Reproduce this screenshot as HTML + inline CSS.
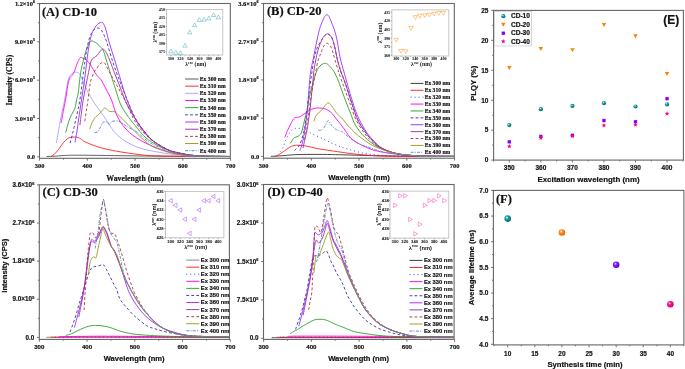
<!DOCTYPE html>
<html><head><meta charset="utf-8"><style>
html,body{margin:0;padding:0;background:#fff;width:685px;height:369px;overflow:hidden}
svg{display:block;will-change:transform;opacity:0.999;filter:blur(0.35px)}
text{stroke:#1a1a1a;stroke-width:0.2px;stroke-linejoin:round}
text.ns{stroke:none}
</style></head><body>
<svg width="685" height="369" viewBox="0 0 685 369">
<rect width="685" height="369" fill="#fff"/>
<defs><clipPath id="cA"><rect x="39.5" y="3.5" width="190.8" height="154.8"/></clipPath><clipPath id="cB"><rect x="263.5" y="3.5" width="190.8" height="154.7"/></clipPath><clipPath id="cC"><rect x="39.3" y="184.8" width="190.10000000000002" height="154.59999999999997"/></clipPath><clipPath id="cD"><rect x="263.5" y="184.5" width="190.60000000000002" height="154.89999999999998"/></clipPath><radialGradient id="gT" cx="0.38" cy="0.35" r="0.65"><stop offset="0" stop-color="#e8ffff"/><stop offset="0.35" stop-color="#1aa3a3"/><stop offset="1" stop-color="#006868"/></radialGradient><radialGradient id="gO" cx="0.38" cy="0.35" r="0.65"><stop offset="0" stop-color="#fff3e0"/><stop offset="0.35" stop-color="#ff9020"/><stop offset="1" stop-color="#e06800"/></radialGradient><radialGradient id="gV" cx="0.38" cy="0.35" r="0.65"><stop offset="0" stop-color="#f0e0ff"/><stop offset="0.35" stop-color="#8a20ff"/><stop offset="1" stop-color="#6000d0"/></radialGradient><radialGradient id="gP" cx="0.38" cy="0.35" r="0.65"><stop offset="0" stop-color="#ffe0f0"/><stop offset="0.35" stop-color="#ff1090"/><stop offset="1" stop-color="#d00070"/></radialGradient></defs>
<rect x="39.50" y="3.50" width="190.80" height="154.80" stroke="#666" stroke-width="1.1" fill="none"/>
<line x1="39.60" y1="158.30" x2="39.60" y2="160.70" stroke="#666" stroke-width="0.9"/>
<text x="39.60" y="168.40" font-family='"Liberation Serif", serif' font-size="6.4" font-weight="bold" text-anchor="middle" fill="#111">300</text>
<line x1="63.48" y1="158.30" x2="63.48" y2="159.70" stroke="#666" stroke-width="0.9"/>
<line x1="87.35" y1="158.30" x2="87.35" y2="160.70" stroke="#666" stroke-width="0.9"/>
<text x="87.35" y="168.40" font-family='"Liberation Serif", serif' font-size="6.4" font-weight="bold" text-anchor="middle" fill="#111">400</text>
<line x1="111.22" y1="158.30" x2="111.22" y2="159.70" stroke="#666" stroke-width="0.9"/>
<line x1="135.10" y1="158.30" x2="135.10" y2="160.70" stroke="#666" stroke-width="0.9"/>
<text x="135.10" y="168.40" font-family='"Liberation Serif", serif' font-size="6.4" font-weight="bold" text-anchor="middle" fill="#111">500</text>
<line x1="158.97" y1="158.30" x2="158.97" y2="159.70" stroke="#666" stroke-width="0.9"/>
<line x1="182.85" y1="158.30" x2="182.85" y2="160.70" stroke="#666" stroke-width="0.9"/>
<text x="182.85" y="168.40" font-family='"Liberation Serif", serif' font-size="6.4" font-weight="bold" text-anchor="middle" fill="#111">600</text>
<line x1="206.72" y1="158.30" x2="206.72" y2="159.70" stroke="#666" stroke-width="0.9"/>
<line x1="230.60" y1="158.30" x2="230.60" y2="160.70" stroke="#666" stroke-width="0.9"/>
<text x="230.60" y="168.40" font-family='"Liberation Serif", serif' font-size="6.4" font-weight="bold" text-anchor="middle" fill="#111">700</text>
<line x1="37.10" y1="3.60" x2="39.50" y2="3.60" stroke="#666" stroke-width="0.9"/>
<line x1="38.10" y1="22.75" x2="39.50" y2="22.75" stroke="#666" stroke-width="0.9"/>
<line x1="37.10" y1="41.90" x2="39.50" y2="41.90" stroke="#666" stroke-width="0.9"/>
<line x1="38.10" y1="61.05" x2="39.50" y2="61.05" stroke="#666" stroke-width="0.9"/>
<line x1="37.10" y1="80.20" x2="39.50" y2="80.20" stroke="#666" stroke-width="0.9"/>
<line x1="38.10" y1="99.35" x2="39.50" y2="99.35" stroke="#666" stroke-width="0.9"/>
<line x1="37.10" y1="118.50" x2="39.50" y2="118.50" stroke="#666" stroke-width="0.9"/>
<line x1="38.10" y1="137.65" x2="39.50" y2="137.65" stroke="#666" stroke-width="0.9"/>
<line x1="37.10" y1="156.80" x2="39.50" y2="156.80" stroke="#666" stroke-width="0.9"/>
<text x="35.00" y="2.70" font-family='"Liberation Serif", serif' font-size="3.968" font-weight="bold" text-anchor="end" fill="#111">6</text>
<text x="32.92" y="5.71" font-family='"Liberation Serif", serif' font-size="6.4" font-weight="bold" text-anchor="end" fill="#111">1.2×10</text>
<text x="35.00" y="41.00" font-family='"Liberation Serif", serif' font-size="3.968" font-weight="bold" text-anchor="end" fill="#111">5</text>
<text x="32.92" y="44.01" font-family='"Liberation Serif", serif' font-size="6.4" font-weight="bold" text-anchor="end" fill="#111">9.0×10</text>
<text x="35.00" y="79.30" font-family='"Liberation Serif", serif' font-size="3.968" font-weight="bold" text-anchor="end" fill="#111">5</text>
<text x="32.92" y="82.31" font-family='"Liberation Serif", serif' font-size="6.4" font-weight="bold" text-anchor="end" fill="#111">6.0×10</text>
<text x="35.00" y="117.60" font-family='"Liberation Serif", serif' font-size="3.968" font-weight="bold" text-anchor="end" fill="#111">5</text>
<text x="32.92" y="120.61" font-family='"Liberation Serif", serif' font-size="6.4" font-weight="bold" text-anchor="end" fill="#111">3.0×10</text>
<text x="35.00" y="159.00" font-family='"Liberation Serif", serif' font-size="6.4" font-weight="bold" text-anchor="end" fill="#111">0.0</text>
<text x="11.60" y="80.10" font-family='"Liberation Serif", serif' font-size="7.7" font-weight="bold" text-anchor="middle" fill="#111" transform="rotate(-90 11.60 80.10)">Intensity (CPS)</text>
<text x="135.00" y="180.70" font-family='"Liberation Serif", serif' font-size="7.8" font-weight="bold" text-anchor="middle" fill="#111">Wavelength (nm)</text>
<text x="41.90" y="15.80" font-family='"Liberation Serif", serif' font-size="12.5" font-weight="bold" text-anchor="start" fill="#111">(A) CD-10</text>
<rect x="263.50" y="3.50" width="190.80" height="154.70" stroke="#666" stroke-width="1.1" fill="none"/>
<line x1="263.60" y1="158.20" x2="263.60" y2="160.60" stroke="#666" stroke-width="0.9"/>
<text x="263.60" y="168.30" font-family='"Liberation Serif", serif' font-size="6.4" font-weight="bold" text-anchor="middle" fill="#111">300</text>
<line x1="287.48" y1="158.20" x2="287.48" y2="159.60" stroke="#666" stroke-width="0.9"/>
<line x1="311.35" y1="158.20" x2="311.35" y2="160.60" stroke="#666" stroke-width="0.9"/>
<text x="311.35" y="168.30" font-family='"Liberation Serif", serif' font-size="6.4" font-weight="bold" text-anchor="middle" fill="#111">400</text>
<line x1="335.23" y1="158.20" x2="335.23" y2="159.60" stroke="#666" stroke-width="0.9"/>
<line x1="359.10" y1="158.20" x2="359.10" y2="160.60" stroke="#666" stroke-width="0.9"/>
<text x="359.10" y="168.30" font-family='"Liberation Serif", serif' font-size="6.4" font-weight="bold" text-anchor="middle" fill="#111">500</text>
<line x1="382.98" y1="158.20" x2="382.98" y2="159.60" stroke="#666" stroke-width="0.9"/>
<line x1="406.85" y1="158.20" x2="406.85" y2="160.60" stroke="#666" stroke-width="0.9"/>
<text x="406.85" y="168.30" font-family='"Liberation Serif", serif' font-size="6.4" font-weight="bold" text-anchor="middle" fill="#111">600</text>
<line x1="430.73" y1="158.20" x2="430.73" y2="159.60" stroke="#666" stroke-width="0.9"/>
<line x1="454.60" y1="158.20" x2="454.60" y2="160.60" stroke="#666" stroke-width="0.9"/>
<text x="454.60" y="168.30" font-family='"Liberation Serif", serif' font-size="6.4" font-weight="bold" text-anchor="middle" fill="#111">700</text>
<line x1="261.10" y1="3.50" x2="263.50" y2="3.50" stroke="#666" stroke-width="0.9"/>
<line x1="262.10" y1="22.61" x2="263.50" y2="22.61" stroke="#666" stroke-width="0.9"/>
<line x1="261.10" y1="41.72" x2="263.50" y2="41.72" stroke="#666" stroke-width="0.9"/>
<line x1="262.10" y1="60.83" x2="263.50" y2="60.83" stroke="#666" stroke-width="0.9"/>
<line x1="261.10" y1="79.94" x2="263.50" y2="79.94" stroke="#666" stroke-width="0.9"/>
<line x1="262.10" y1="99.05" x2="263.50" y2="99.05" stroke="#666" stroke-width="0.9"/>
<line x1="261.10" y1="118.16" x2="263.50" y2="118.16" stroke="#666" stroke-width="0.9"/>
<line x1="262.10" y1="137.27" x2="263.50" y2="137.27" stroke="#666" stroke-width="0.9"/>
<line x1="261.10" y1="156.38" x2="263.50" y2="156.38" stroke="#666" stroke-width="0.9"/>
<text x="258.60" y="2.59" font-family='"Liberation Serif", serif' font-size="4.03" font-weight="bold" text-anchor="end" fill="#111">6</text>
<text x="256.49" y="5.64" font-family='"Liberation Serif", serif' font-size="6.5" font-weight="bold" text-anchor="end" fill="#111">3.6×10</text>
<text x="258.60" y="40.81" font-family='"Liberation Serif", serif' font-size="4.03" font-weight="bold" text-anchor="end" fill="#111">6</text>
<text x="256.49" y="43.87" font-family='"Liberation Serif", serif' font-size="6.5" font-weight="bold" text-anchor="end" fill="#111">2.7×10</text>
<text x="258.60" y="79.03" font-family='"Liberation Serif", serif' font-size="4.03" font-weight="bold" text-anchor="end" fill="#111">6</text>
<text x="256.49" y="82.08" font-family='"Liberation Serif", serif' font-size="6.5" font-weight="bold" text-anchor="end" fill="#111">1.8×10</text>
<text x="258.60" y="117.25" font-family='"Liberation Serif", serif' font-size="4.03" font-weight="bold" text-anchor="end" fill="#111">5</text>
<text x="256.49" y="120.30" font-family='"Liberation Serif", serif' font-size="6.5" font-weight="bold" text-anchor="end" fill="#111">9.0×10</text>
<text x="259.20" y="158.58" font-family='"Liberation Serif", serif' font-size="6.6" font-weight="bold" text-anchor="end" fill="#111">0.0</text>
<text x="359.00" y="180.00" font-family='"Liberation Sans", sans-serif' font-size="7.7" font-weight="bold" text-anchor="middle" fill="#111">Wavelength (nm)</text>
<text x="266.90" y="15.30" font-family='"Liberation Serif", serif' font-size="12.5" font-weight="bold" text-anchor="start" fill="#111">(B) CD-20</text>
<rect x="39.30" y="184.80" width="190.10" height="154.60" stroke="#666" stroke-width="1.1" fill="none"/>
<line x1="39.30" y1="339.40" x2="39.30" y2="341.80" stroke="#666" stroke-width="0.9"/>
<text x="39.30" y="349.10" font-family='"Liberation Sans", sans-serif' font-size="6.1" font-weight="bold" text-anchor="middle" fill="#111">300</text>
<line x1="63.17" y1="339.40" x2="63.17" y2="340.80" stroke="#666" stroke-width="0.9"/>
<line x1="87.05" y1="339.40" x2="87.05" y2="341.80" stroke="#666" stroke-width="0.9"/>
<text x="87.05" y="349.10" font-family='"Liberation Sans", sans-serif' font-size="6.1" font-weight="bold" text-anchor="middle" fill="#111">400</text>
<line x1="110.92" y1="339.40" x2="110.92" y2="340.80" stroke="#666" stroke-width="0.9"/>
<line x1="134.80" y1="339.40" x2="134.80" y2="341.80" stroke="#666" stroke-width="0.9"/>
<text x="134.80" y="349.10" font-family='"Liberation Sans", sans-serif' font-size="6.1" font-weight="bold" text-anchor="middle" fill="#111">500</text>
<line x1="158.68" y1="339.40" x2="158.68" y2="340.80" stroke="#666" stroke-width="0.9"/>
<line x1="182.55" y1="339.40" x2="182.55" y2="341.80" stroke="#666" stroke-width="0.9"/>
<text x="182.55" y="349.10" font-family='"Liberation Sans", sans-serif' font-size="6.1" font-weight="bold" text-anchor="middle" fill="#111">600</text>
<line x1="206.43" y1="339.40" x2="206.43" y2="340.80" stroke="#666" stroke-width="0.9"/>
<line x1="230.30" y1="339.40" x2="230.30" y2="341.80" stroke="#666" stroke-width="0.9"/>
<text x="230.30" y="349.10" font-family='"Liberation Sans", sans-serif' font-size="6.1" font-weight="bold" text-anchor="middle" fill="#111">700</text>
<line x1="36.90" y1="184.90" x2="39.30" y2="184.90" stroke="#666" stroke-width="0.9"/>
<line x1="37.90" y1="203.96" x2="39.30" y2="203.96" stroke="#666" stroke-width="0.9"/>
<line x1="36.90" y1="223.02" x2="39.30" y2="223.02" stroke="#666" stroke-width="0.9"/>
<line x1="37.90" y1="242.08" x2="39.30" y2="242.08" stroke="#666" stroke-width="0.9"/>
<line x1="36.90" y1="261.14" x2="39.30" y2="261.14" stroke="#666" stroke-width="0.9"/>
<line x1="37.90" y1="280.20" x2="39.30" y2="280.20" stroke="#666" stroke-width="0.9"/>
<line x1="36.90" y1="299.26" x2="39.30" y2="299.26" stroke="#666" stroke-width="0.9"/>
<line x1="37.90" y1="318.32" x2="39.30" y2="318.32" stroke="#666" stroke-width="0.9"/>
<line x1="36.90" y1="337.38" x2="39.30" y2="337.38" stroke="#666" stroke-width="0.9"/>
<text x="34.30" y="184.77" font-family='"Liberation Sans", sans-serif' font-size="3.9059999999999997" font-weight="bold" text-anchor="end" fill="#111">6</text>
<text x="32.03" y="186.98" font-family='"Liberation Sans", sans-serif' font-size="6.3" font-weight="bold" text-anchor="end" fill="#111">3.6×10</text>
<text x="34.30" y="222.89" font-family='"Liberation Sans", sans-serif' font-size="3.9059999999999997" font-weight="bold" text-anchor="end" fill="#111">6</text>
<text x="32.03" y="225.10" font-family='"Liberation Sans", sans-serif' font-size="6.3" font-weight="bold" text-anchor="end" fill="#111">2.7×10</text>
<text x="34.30" y="261.01" font-family='"Liberation Sans", sans-serif' font-size="3.9059999999999997" font-weight="bold" text-anchor="end" fill="#111">6</text>
<text x="32.03" y="263.22" font-family='"Liberation Sans", sans-serif' font-size="6.3" font-weight="bold" text-anchor="end" fill="#111">1.8×10</text>
<text x="34.30" y="299.13" font-family='"Liberation Sans", sans-serif' font-size="3.9059999999999997" font-weight="bold" text-anchor="end" fill="#111">5</text>
<text x="32.03" y="301.34" font-family='"Liberation Sans", sans-serif' font-size="6.3" font-weight="bold" text-anchor="end" fill="#111">9.0×10</text>
<text x="34.30" y="340.08" font-family='"Liberation Sans", sans-serif' font-size="6.3" font-weight="bold" text-anchor="end" fill="#111">0.0</text>
<text x="6.60" y="265.70" font-family='"Liberation Sans", sans-serif' font-size="7.6" font-weight="bold" text-anchor="middle" fill="#111" transform="rotate(-90 6.60 265.70)">Intensity (CPS)</text>
<text x="134.20" y="361.40" font-family='"Liberation Sans", sans-serif' font-size="7.6" font-weight="bold" text-anchor="middle" fill="#111">Wavelength (nm)</text>
<text x="42.60" y="196.10" font-family='"Liberation Serif", serif' font-size="12.5" font-weight="bold" text-anchor="start" fill="#111">(C) CD-30</text>
<rect x="263.50" y="184.50" width="190.60" height="154.90" stroke="#666" stroke-width="1.1" fill="none"/>
<line x1="263.60" y1="339.40" x2="263.60" y2="341.80" stroke="#666" stroke-width="0.9"/>
<text x="263.60" y="349.10" font-family='"Liberation Sans", sans-serif' font-size="6.1" font-weight="bold" text-anchor="middle" fill="#111">300</text>
<line x1="287.48" y1="339.40" x2="287.48" y2="340.80" stroke="#666" stroke-width="0.9"/>
<line x1="311.35" y1="339.40" x2="311.35" y2="341.80" stroke="#666" stroke-width="0.9"/>
<text x="311.35" y="349.10" font-family='"Liberation Sans", sans-serif' font-size="6.1" font-weight="bold" text-anchor="middle" fill="#111">400</text>
<line x1="335.23" y1="339.40" x2="335.23" y2="340.80" stroke="#666" stroke-width="0.9"/>
<line x1="359.10" y1="339.40" x2="359.10" y2="341.80" stroke="#666" stroke-width="0.9"/>
<text x="359.10" y="349.10" font-family='"Liberation Sans", sans-serif' font-size="6.1" font-weight="bold" text-anchor="middle" fill="#111">500</text>
<line x1="382.98" y1="339.40" x2="382.98" y2="340.80" stroke="#666" stroke-width="0.9"/>
<line x1="406.85" y1="339.40" x2="406.85" y2="341.80" stroke="#666" stroke-width="0.9"/>
<text x="406.85" y="349.10" font-family='"Liberation Sans", sans-serif' font-size="6.1" font-weight="bold" text-anchor="middle" fill="#111">600</text>
<line x1="430.73" y1="339.40" x2="430.73" y2="340.80" stroke="#666" stroke-width="0.9"/>
<line x1="454.60" y1="339.40" x2="454.60" y2="341.80" stroke="#666" stroke-width="0.9"/>
<text x="454.60" y="349.10" font-family='"Liberation Sans", sans-serif' font-size="6.1" font-weight="bold" text-anchor="middle" fill="#111">700</text>
<line x1="261.10" y1="184.70" x2="263.50" y2="184.70" stroke="#666" stroke-width="0.9"/>
<line x1="262.10" y1="203.90" x2="263.50" y2="203.90" stroke="#666" stroke-width="0.9"/>
<line x1="261.10" y1="223.10" x2="263.50" y2="223.10" stroke="#666" stroke-width="0.9"/>
<line x1="262.10" y1="242.30" x2="263.50" y2="242.30" stroke="#666" stroke-width="0.9"/>
<line x1="261.10" y1="261.50" x2="263.50" y2="261.50" stroke="#666" stroke-width="0.9"/>
<line x1="262.10" y1="280.70" x2="263.50" y2="280.70" stroke="#666" stroke-width="0.9"/>
<line x1="261.10" y1="299.90" x2="263.50" y2="299.90" stroke="#666" stroke-width="0.9"/>
<line x1="262.10" y1="319.10" x2="263.50" y2="319.10" stroke="#666" stroke-width="0.9"/>
<line x1="261.10" y1="338.30" x2="263.50" y2="338.30" stroke="#666" stroke-width="0.9"/>
<text x="258.50" y="184.57" font-family='"Liberation Sans", sans-serif' font-size="3.9059999999999997" font-weight="bold" text-anchor="end" fill="#111">6</text>
<text x="256.23" y="186.78" font-family='"Liberation Sans", sans-serif' font-size="6.3" font-weight="bold" text-anchor="end" fill="#111">3.0×10</text>
<text x="258.50" y="222.97" font-family='"Liberation Sans", sans-serif' font-size="3.9059999999999997" font-weight="bold" text-anchor="end" fill="#111">6</text>
<text x="256.23" y="225.18" font-family='"Liberation Sans", sans-serif' font-size="6.3" font-weight="bold" text-anchor="end" fill="#111">2.3×10</text>
<text x="258.50" y="261.37" font-family='"Liberation Sans", sans-serif' font-size="3.9059999999999997" font-weight="bold" text-anchor="end" fill="#111">6</text>
<text x="256.23" y="263.58" font-family='"Liberation Sans", sans-serif' font-size="6.3" font-weight="bold" text-anchor="end" fill="#111">1.5×10</text>
<text x="258.50" y="299.77" font-family='"Liberation Sans", sans-serif' font-size="3.9059999999999997" font-weight="bold" text-anchor="end" fill="#111">5</text>
<text x="256.23" y="301.98" font-family='"Liberation Sans", sans-serif' font-size="6.3" font-weight="bold" text-anchor="end" fill="#111">7.5×10</text>
<text x="258.50" y="340.20" font-family='"Liberation Sans", sans-serif' font-size="6.3" font-weight="bold" text-anchor="end" fill="#111">0.0</text>
<text x="358.60" y="361.40" font-family='"Liberation Sans", sans-serif' font-size="7.6" font-weight="bold" text-anchor="middle" fill="#111">Wavelength (nm)</text>
<text x="267.60" y="196.10" font-family='"Liberation Serif", serif' font-size="12.5" font-weight="bold" text-anchor="start" fill="#111">(D) CD-40</text>
<rect x="493.60" y="10.40" width="189.80" height="149.70" stroke="#666" stroke-width="1.1" fill="none"/>
<line x1="491.20" y1="160.10" x2="493.60" y2="160.10" stroke="#666" stroke-width="0.9"/>
<text x="488.40" y="162.40" font-family='"Liberation Sans", sans-serif' font-size="6.5" font-weight="bold" text-anchor="end" fill="#111">0</text>
<line x1="492.20" y1="145.13" x2="493.60" y2="145.13" stroke="#666" stroke-width="0.9"/>
<line x1="491.20" y1="130.16" x2="493.60" y2="130.16" stroke="#666" stroke-width="0.9"/>
<text x="488.40" y="132.46" font-family='"Liberation Sans", sans-serif' font-size="6.5" font-weight="bold" text-anchor="end" fill="#111">5</text>
<line x1="492.20" y1="115.19" x2="493.60" y2="115.19" stroke="#666" stroke-width="0.9"/>
<line x1="491.20" y1="100.22" x2="493.60" y2="100.22" stroke="#666" stroke-width="0.9"/>
<text x="488.40" y="102.52" font-family='"Liberation Sans", sans-serif' font-size="6.5" font-weight="bold" text-anchor="end" fill="#111">10</text>
<line x1="492.20" y1="85.25" x2="493.60" y2="85.25" stroke="#666" stroke-width="0.9"/>
<line x1="491.20" y1="70.28" x2="493.60" y2="70.28" stroke="#666" stroke-width="0.9"/>
<text x="488.40" y="72.58" font-family='"Liberation Sans", sans-serif' font-size="6.5" font-weight="bold" text-anchor="end" fill="#111">15</text>
<line x1="492.20" y1="55.31" x2="493.60" y2="55.31" stroke="#666" stroke-width="0.9"/>
<line x1="491.20" y1="40.34" x2="493.60" y2="40.34" stroke="#666" stroke-width="0.9"/>
<text x="488.40" y="42.64" font-family='"Liberation Sans", sans-serif' font-size="6.5" font-weight="bold" text-anchor="end" fill="#111">20</text>
<line x1="492.20" y1="25.37" x2="493.60" y2="25.37" stroke="#666" stroke-width="0.9"/>
<line x1="491.20" y1="10.40" x2="493.60" y2="10.40" stroke="#666" stroke-width="0.9"/>
<text x="488.40" y="12.70" font-family='"Liberation Sans", sans-serif' font-size="6.5" font-weight="bold" text-anchor="end" fill="#111">25</text>
<line x1="493.53" y1="160.10" x2="493.53" y2="161.50" stroke="#666" stroke-width="0.9"/>
<line x1="509.30" y1="160.10" x2="509.30" y2="162.50" stroke="#666" stroke-width="0.9"/>
<text x="509.30" y="170.00" font-family='"Liberation Sans", sans-serif' font-size="6.5" font-weight="bold" text-anchor="middle" fill="#111">350</text>
<line x1="525.08" y1="160.10" x2="525.08" y2="161.50" stroke="#666" stroke-width="0.9"/>
<line x1="540.85" y1="160.10" x2="540.85" y2="162.50" stroke="#666" stroke-width="0.9"/>
<text x="540.85" y="170.00" font-family='"Liberation Sans", sans-serif' font-size="6.5" font-weight="bold" text-anchor="middle" fill="#111">360</text>
<line x1="556.62" y1="160.10" x2="556.62" y2="161.50" stroke="#666" stroke-width="0.9"/>
<line x1="572.40" y1="160.10" x2="572.40" y2="162.50" stroke="#666" stroke-width="0.9"/>
<text x="572.40" y="170.00" font-family='"Liberation Sans", sans-serif' font-size="6.5" font-weight="bold" text-anchor="middle" fill="#111">370</text>
<line x1="588.17" y1="160.10" x2="588.17" y2="161.50" stroke="#666" stroke-width="0.9"/>
<line x1="603.95" y1="160.10" x2="603.95" y2="162.50" stroke="#666" stroke-width="0.9"/>
<text x="603.95" y="170.00" font-family='"Liberation Sans", sans-serif' font-size="6.5" font-weight="bold" text-anchor="middle" fill="#111">380</text>
<line x1="619.73" y1="160.10" x2="619.73" y2="161.50" stroke="#666" stroke-width="0.9"/>
<line x1="635.50" y1="160.10" x2="635.50" y2="162.50" stroke="#666" stroke-width="0.9"/>
<text x="635.50" y="170.00" font-family='"Liberation Sans", sans-serif' font-size="6.5" font-weight="bold" text-anchor="middle" fill="#111">390</text>
<line x1="651.27" y1="160.10" x2="651.27" y2="161.50" stroke="#666" stroke-width="0.9"/>
<line x1="667.05" y1="160.10" x2="667.05" y2="162.50" stroke="#666" stroke-width="0.9"/>
<text x="667.05" y="170.00" font-family='"Liberation Sans", sans-serif' font-size="6.5" font-weight="bold" text-anchor="middle" fill="#111">400</text>
<line x1="682.83" y1="160.10" x2="682.83" y2="161.50" stroke="#666" stroke-width="0.9"/>
<text x="475.90" y="83.30" font-family='"Liberation Sans", sans-serif' font-size="7.8" font-weight="bold" text-anchor="middle" fill="#111" transform="rotate(-90 475.90 83.30)">PLQY (%)</text>
<text x="588.50" y="182.10" font-family='"Liberation Sans", sans-serif' font-size="7.9" font-weight="bold" text-anchor="middle" fill="#111">Excitation wavelength (nm)</text>
<text x="679.30" y="23.80" font-family='"Liberation Sans", sans-serif' font-size="12" font-weight="bold" text-anchor="end" fill="#111">(E)</text>
<rect x="493.40" y="190.40" width="190.50" height="154.50" stroke="#666" stroke-width="1.1" fill="none"/>
<line x1="491.00" y1="190.40" x2="493.40" y2="190.40" stroke="#666" stroke-width="0.9"/>
<text x="488.40" y="192.70" font-family='"Liberation Sans", sans-serif' font-size="6.5" font-weight="bold" text-anchor="end" fill="#111">7.0</text>
<line x1="492.00" y1="203.22" x2="493.40" y2="203.22" stroke="#666" stroke-width="0.9"/>
<line x1="491.00" y1="216.05" x2="493.40" y2="216.05" stroke="#666" stroke-width="0.9"/>
<text x="488.40" y="218.35" font-family='"Liberation Sans", sans-serif' font-size="6.5" font-weight="bold" text-anchor="end" fill="#111">6.5</text>
<line x1="492.00" y1="228.88" x2="493.40" y2="228.88" stroke="#666" stroke-width="0.9"/>
<line x1="491.00" y1="241.70" x2="493.40" y2="241.70" stroke="#666" stroke-width="0.9"/>
<text x="488.40" y="244.00" font-family='"Liberation Sans", sans-serif' font-size="6.5" font-weight="bold" text-anchor="end" fill="#111">6.0</text>
<line x1="492.00" y1="254.53" x2="493.40" y2="254.53" stroke="#666" stroke-width="0.9"/>
<line x1="491.00" y1="267.35" x2="493.40" y2="267.35" stroke="#666" stroke-width="0.9"/>
<text x="488.40" y="269.65" font-family='"Liberation Sans", sans-serif' font-size="6.5" font-weight="bold" text-anchor="end" fill="#111">5.5</text>
<line x1="492.00" y1="280.18" x2="493.40" y2="280.18" stroke="#666" stroke-width="0.9"/>
<line x1="491.00" y1="293.00" x2="493.40" y2="293.00" stroke="#666" stroke-width="0.9"/>
<text x="488.40" y="295.30" font-family='"Liberation Sans", sans-serif' font-size="6.5" font-weight="bold" text-anchor="end" fill="#111">5.0</text>
<line x1="492.00" y1="305.82" x2="493.40" y2="305.82" stroke="#666" stroke-width="0.9"/>
<line x1="491.00" y1="318.65" x2="493.40" y2="318.65" stroke="#666" stroke-width="0.9"/>
<text x="488.40" y="320.95" font-family='"Liberation Sans", sans-serif' font-size="6.5" font-weight="bold" text-anchor="end" fill="#111">4.5</text>
<line x1="492.00" y1="331.48" x2="493.40" y2="331.48" stroke="#666" stroke-width="0.9"/>
<line x1="491.00" y1="344.30" x2="493.40" y2="344.30" stroke="#666" stroke-width="0.9"/>
<text x="488.40" y="346.60" font-family='"Liberation Sans", sans-serif' font-size="6.5" font-weight="bold" text-anchor="end" fill="#111">4.0</text>
<line x1="494.14" y1="344.90" x2="494.14" y2="346.30" stroke="#666" stroke-width="0.9"/>
<line x1="507.70" y1="344.90" x2="507.70" y2="347.30" stroke="#666" stroke-width="0.9"/>
<text x="507.70" y="355.60" font-family='"Liberation Sans", sans-serif' font-size="6.5" font-weight="bold" text-anchor="middle" fill="#111">10</text>
<line x1="521.26" y1="344.90" x2="521.26" y2="346.30" stroke="#666" stroke-width="0.9"/>
<line x1="534.81" y1="344.90" x2="534.81" y2="347.30" stroke="#666" stroke-width="0.9"/>
<text x="534.81" y="355.60" font-family='"Liberation Sans", sans-serif' font-size="6.5" font-weight="bold" text-anchor="middle" fill="#111">15</text>
<line x1="548.37" y1="344.90" x2="548.37" y2="346.30" stroke="#666" stroke-width="0.9"/>
<line x1="561.93" y1="344.90" x2="561.93" y2="347.30" stroke="#666" stroke-width="0.9"/>
<text x="561.93" y="355.60" font-family='"Liberation Sans", sans-serif' font-size="6.5" font-weight="bold" text-anchor="middle" fill="#111">20</text>
<line x1="575.49" y1="344.90" x2="575.49" y2="346.30" stroke="#666" stroke-width="0.9"/>
<line x1="589.04" y1="344.90" x2="589.04" y2="347.30" stroke="#666" stroke-width="0.9"/>
<text x="589.04" y="355.60" font-family='"Liberation Sans", sans-serif' font-size="6.5" font-weight="bold" text-anchor="middle" fill="#111">25</text>
<line x1="602.60" y1="344.90" x2="602.60" y2="346.30" stroke="#666" stroke-width="0.9"/>
<line x1="616.16" y1="344.90" x2="616.16" y2="347.30" stroke="#666" stroke-width="0.9"/>
<text x="616.16" y="355.60" font-family='"Liberation Sans", sans-serif' font-size="6.5" font-weight="bold" text-anchor="middle" fill="#111">30</text>
<line x1="629.72" y1="344.90" x2="629.72" y2="346.30" stroke="#666" stroke-width="0.9"/>
<line x1="643.27" y1="344.90" x2="643.27" y2="347.30" stroke="#666" stroke-width="0.9"/>
<text x="643.27" y="355.60" font-family='"Liberation Sans", sans-serif' font-size="6.5" font-weight="bold" text-anchor="middle" fill="#111">35</text>
<line x1="656.83" y1="344.90" x2="656.83" y2="346.30" stroke="#666" stroke-width="0.9"/>
<line x1="670.39" y1="344.90" x2="670.39" y2="347.30" stroke="#666" stroke-width="0.9"/>
<text x="670.39" y="355.60" font-family='"Liberation Sans", sans-serif' font-size="6.5" font-weight="bold" text-anchor="middle" fill="#111">40</text>
<line x1="683.95" y1="344.90" x2="683.95" y2="346.30" stroke="#666" stroke-width="0.9"/>
<text x="474.20" y="267.60" font-family='"Liberation Sans", sans-serif' font-size="7.7" font-weight="bold" text-anchor="middle" fill="#111" transform="rotate(-90 474.20 267.60)">Average lifetime (ns)</text>
<text x="585.00" y="366.80" font-family='"Liberation Sans", sans-serif' font-size="7.7" font-weight="bold" text-anchor="middle" fill="#111">Synthesis time (min)</text>
<text x="495.90" y="202.90" font-family='"Liberation Serif", serif' font-size="12.5" font-weight="bold" text-anchor="start" fill="#111">(F)</text>
<g clip-path="url(#cA)">
<path d="M46.50,156.50 C47.92,156.45 52.42,156.35 55.00,156.20 C57.58,156.05 59.62,155.75 62.00,155.60 C64.38,155.45 66.30,155.37 69.30,155.30 C72.30,155.23 74.88,155.18 80.00,155.20 C85.12,155.22 91.67,155.30 100.00,155.40 C108.33,155.50 120.00,155.67 130.00,155.80 C140.00,155.93 148.33,156.08 160.00,156.20 C171.67,156.32 188.33,156.43 200.00,156.50 C211.67,156.57 225.00,156.58 230.00,156.60" fill="none" stroke="#505050" stroke-width="0.9" stroke-linejoin="round"/>
<path d="M51.10,156.40 C51.58,156.08 52.98,155.38 54.00,154.50 C55.02,153.62 56.32,152.13 57.20,151.10 C58.08,150.07 58.62,149.25 59.30,148.30 C59.98,147.35 60.63,146.32 61.30,145.40 C61.97,144.48 62.63,143.60 63.30,142.80 C63.97,142.00 64.63,141.27 65.30,140.60 C65.97,139.93 66.62,139.28 67.30,138.80 C67.98,138.32 68.53,137.98 69.40,137.70 C70.27,137.42 71.42,137.18 72.50,137.10 C73.58,137.02 74.90,137.08 75.90,137.20 C76.90,137.32 77.68,137.52 78.50,137.80 C79.32,138.08 79.72,138.23 80.80,138.90 C81.88,139.57 82.85,140.72 85.00,141.80 C87.15,142.88 90.37,144.23 93.70,145.40 C97.03,146.57 100.40,147.70 105.00,148.80 C109.60,149.90 114.52,150.92 121.30,152.00 C128.08,153.08 138.42,154.63 145.70,155.30 C152.98,155.97 158.45,155.83 165.00,156.00 C171.55,156.17 181.67,156.25 185.00,156.30" fill="none" stroke="#ff2020" stroke-width="0.9" stroke-linejoin="round"/>
<path d="M56.30,143.20 C56.67,141.17 57.82,134.87 58.50,131.00 C59.18,127.13 59.73,123.50 60.40,120.00 C61.07,116.50 61.82,113.22 62.50,110.00 C63.18,106.78 63.87,104.03 64.50,100.70 C65.13,97.37 65.75,93.27 66.30,90.00 C66.85,86.73 67.15,83.53 67.80,81.10 C68.45,78.67 69.33,76.75 70.20,75.40 C71.07,74.05 71.92,73.53 73.00,73.00 C74.08,72.47 75.53,71.93 76.70,72.20 C77.87,72.47 78.87,72.97 80.00,74.60 C81.13,76.23 82.28,79.28 83.50,82.00 C84.72,84.72 85.58,87.52 87.30,90.90 C89.02,94.28 91.68,98.95 93.80,102.30 C95.92,105.65 98.13,108.38 100.00,111.00 C101.87,113.62 102.00,113.87 105.00,118.00 C108.00,122.13 112.58,130.93 118.00,135.80 C123.42,140.67 130.17,144.37 137.50,147.20 C144.83,150.03 154.08,151.40 162.00,152.80 C169.92,154.20 178.67,155.03 185.00,155.60 C191.33,156.17 192.50,156.05 200.00,156.20 C207.50,156.35 225.00,156.45 230.00,156.50" fill="none" stroke="#a4a4ff" stroke-width="0.9" stroke-linejoin="round"/>
<path d="M61.20,122.80 C61.58,120.67 62.70,114.30 63.50,110.00 C64.30,105.70 65.30,101.00 66.00,97.00 C66.70,93.00 67.10,89.08 67.70,86.00 C68.30,82.92 68.88,80.25 69.60,78.50 C70.32,76.75 71.22,76.67 72.00,75.50 C72.78,74.33 73.47,73.42 74.30,71.50 C75.13,69.58 76.20,66.00 77.00,64.00 C77.80,62.00 78.47,60.62 79.10,59.50 C79.73,58.38 80.15,57.48 80.80,57.30 C81.45,57.12 82.13,58.00 83.00,58.40 C83.87,58.80 84.83,58.77 86.00,59.70 C87.17,60.63 88.23,61.45 90.00,64.00 C91.77,66.55 94.80,72.42 96.60,75.00 C98.40,77.58 99.23,77.17 100.80,79.50 C102.37,81.83 104.22,85.58 106.00,89.00 C107.78,92.42 109.50,95.18 111.50,100.00 C113.50,104.82 115.02,112.48 118.00,117.90 C120.98,123.32 124.78,128.30 129.40,132.50 C134.02,136.70 139.47,139.95 145.70,143.10 C151.93,146.25 160.25,149.37 166.80,151.40 C173.35,153.43 179.47,154.52 185.00,155.30 C190.53,156.08 192.50,155.90 200.00,156.10 C207.50,156.30 225.00,156.43 230.00,156.50" fill="none" stroke="#ff00ff" stroke-width="0.9" stroke-linejoin="round"/>
<path d="M65.70,132.60 C66.08,131.17 67.27,126.45 68.00,124.00 C68.73,121.55 69.27,119.90 70.10,117.90 C70.93,115.90 72.18,113.65 73.00,112.00 C73.82,110.35 74.40,110.00 75.00,108.00 C75.60,106.00 76.05,102.58 76.60,100.00 C77.15,97.42 77.68,96.67 78.30,92.50 C78.92,88.33 79.68,79.42 80.30,75.00 C80.92,70.58 81.38,68.83 82.00,66.00 C82.62,63.17 83.17,61.00 84.00,58.00 C84.83,55.00 85.85,50.80 87.00,48.00 C88.15,45.20 89.73,42.23 90.90,41.20 C92.07,40.17 92.98,41.42 94.00,41.80 C95.02,42.18 95.83,42.55 97.00,43.50 C98.17,44.45 99.92,46.25 101.00,47.50 C102.08,48.75 102.72,49.25 103.50,51.00 C104.28,52.75 104.87,55.33 105.70,58.00 C106.53,60.67 107.55,63.95 108.50,67.00 C109.45,70.05 110.23,72.63 111.40,76.30 C112.57,79.97 114.00,84.38 115.50,89.00 C117.00,93.62 118.48,99.67 120.40,104.00 C122.32,108.33 124.68,111.60 127.00,115.00 C129.32,118.40 130.92,120.40 134.30,124.40 C137.68,128.40 142.15,134.90 147.30,139.00 C152.45,143.10 159.75,146.67 165.20,149.00 C170.65,151.33 175.53,151.95 180.00,153.00 C184.47,154.05 187.83,154.77 192.00,155.30 C196.17,155.83 198.67,156.00 205.00,156.20 C211.33,156.40 225.83,156.45 230.00,156.50" fill="none" stroke="#2ea02e" stroke-width="0.9" stroke-linejoin="round"/>
<path d="M70.10,143.20 C70.50,141.67 71.68,137.37 72.50,134.00 C73.32,130.63 74.17,126.67 75.00,123.00 C75.83,119.33 76.68,115.83 77.50,112.00 C78.32,108.17 79.07,105.33 79.90,100.00 C80.73,94.67 81.68,86.33 82.50,80.00 C83.32,73.67 84.05,67.33 84.80,62.00 C85.55,56.67 86.13,52.25 87.00,48.00 C87.87,43.75 89.00,39.33 90.00,36.50 C91.00,33.67 92.07,32.33 93.00,31.00 C93.93,29.67 94.73,29.00 95.60,28.50 C96.47,28.00 97.30,27.83 98.20,28.00 C99.10,28.17 100.03,28.33 101.00,29.50 C101.97,30.67 103.00,32.75 104.00,35.00 C105.00,37.25 105.63,38.83 107.00,43.00 C108.37,47.17 110.53,54.83 112.20,60.00 C113.87,65.17 115.37,69.50 117.00,74.00 C118.63,78.50 120.08,82.17 122.00,87.00 C123.92,91.83 126.20,97.67 128.50,103.00 C130.80,108.33 133.05,114.17 135.80,119.00 C138.55,123.83 142.00,128.25 145.00,132.00 C148.00,135.75 149.63,138.38 153.80,141.50 C157.97,144.62 165.13,148.63 170.00,150.70 C174.87,152.77 179.17,153.12 183.00,153.90 C186.83,154.68 189.33,155.02 193.00,155.40 C196.67,155.78 198.83,156.02 205.00,156.20 C211.17,156.38 225.83,156.45 230.00,156.50" fill="none" stroke="#3535a5" stroke-width="0.9" stroke-dasharray="2.8,2.2" stroke-linejoin="round"/>
<path d="M75.00,142.30 C75.33,140.42 76.42,134.72 77.00,131.00 C77.58,127.28 78.00,123.50 78.50,120.00 C79.00,116.50 79.50,113.33 80.00,110.00 C80.50,106.67 81.00,103.33 81.50,100.00 C82.00,96.67 82.50,93.33 83.00,90.00 C83.50,86.67 84.00,83.67 84.50,80.00 C85.00,76.33 85.50,72.00 86.00,68.00 C86.50,64.00 86.92,60.17 87.50,56.00 C88.08,51.83 88.83,46.50 89.50,43.00 C90.17,39.50 90.87,37.10 91.50,35.00 C92.13,32.90 92.55,31.90 93.30,30.40 C94.05,28.90 95.05,27.20 96.00,26.00 C96.95,24.80 98.08,23.82 99.00,23.20 C99.92,22.58 100.75,22.22 101.50,22.30 C102.25,22.38 102.75,22.42 103.50,23.70 C104.25,24.98 105.17,27.28 106.00,30.00 C106.83,32.72 107.58,36.67 108.50,40.00 C109.42,43.33 110.47,46.67 111.50,50.00 C112.53,53.33 113.67,56.67 114.70,60.00 C115.73,63.33 116.65,66.50 117.70,70.00 C118.75,73.50 119.73,76.83 121.00,81.00 C122.27,85.17 123.63,90.17 125.30,95.00 C126.97,99.83 128.97,105.37 131.00,110.00 C133.03,114.63 135.17,118.97 137.50,122.80 C139.83,126.63 142.28,129.88 145.00,133.00 C147.72,136.12 149.63,138.55 153.80,141.50 C157.97,144.45 165.13,148.63 170.00,150.70 C174.87,152.77 179.17,153.12 183.00,153.90 C186.83,154.68 189.33,155.02 193.00,155.40 C196.67,155.78 198.83,156.02 205.00,156.20 C211.17,156.38 225.83,156.45 230.00,156.50" fill="none" stroke="#9a30ff" stroke-width="0.9" stroke-linejoin="round"/>
<path d="M79.90,125.20 C80.17,123.00 80.95,116.20 81.50,112.00 C82.05,107.80 82.62,103.67 83.20,100.00 C83.78,96.33 84.37,93.33 85.00,90.00 C85.63,86.67 86.33,83.33 87.00,80.00 C87.67,76.67 88.42,72.83 89.00,70.00 C89.58,67.17 89.97,64.83 90.50,63.00 C91.03,61.17 91.60,59.90 92.20,59.00 C92.80,58.10 93.30,58.18 94.10,57.60 C94.90,57.02 96.02,56.52 97.00,55.50 C97.98,54.48 99.07,52.57 100.00,51.50 C100.93,50.43 101.77,49.27 102.60,49.10 C103.43,48.93 104.18,49.52 105.00,50.50 C105.82,51.48 106.67,53.25 107.50,55.00 C108.33,56.75 108.70,57.67 110.00,61.00 C111.30,64.33 113.63,70.67 115.30,75.00 C116.97,79.33 118.38,82.83 120.00,87.00 C121.62,91.17 123.33,96.17 125.00,100.00 C126.67,103.83 128.17,106.67 130.00,110.00 C131.83,113.33 133.67,116.50 136.00,120.00 C138.33,123.50 141.03,127.42 144.00,131.00 C146.97,134.58 149.47,138.22 153.80,141.50 C158.13,144.78 165.13,148.63 170.00,150.70 C174.87,152.77 179.17,153.12 183.00,153.90 C186.83,154.68 189.33,155.02 193.00,155.40 C196.67,155.78 198.83,156.02 205.00,156.20 C211.17,156.38 225.83,156.45 230.00,156.50" fill="none" stroke="#a030a0" stroke-width="0.9" stroke-linejoin="round"/>
<path d="M84.80,121.20 C85.08,119.33 85.97,113.53 86.50,110.00 C87.03,106.47 87.50,103.67 88.00,100.00 C88.50,96.33 89.00,91.33 89.50,88.00 C90.00,84.67 90.25,82.58 91.00,80.00 C91.75,77.42 93.00,74.50 94.00,72.50 C95.00,70.50 96.00,69.42 97.00,68.00 C98.00,66.58 98.97,64.97 100.00,64.00 C101.03,63.03 102.32,62.20 103.20,62.20 C104.08,62.20 104.62,63.02 105.30,64.00 C105.98,64.98 106.27,66.10 107.30,68.10 C108.33,70.10 110.00,73.28 111.50,76.00 C113.00,78.72 114.72,81.57 116.30,84.40 C117.88,87.23 119.38,90.02 121.00,93.00 C122.62,95.98 124.50,99.30 126.00,102.30 C127.50,105.30 128.63,108.05 130.00,111.00 C131.37,113.95 132.03,116.50 134.20,120.00 C136.37,123.50 139.73,128.42 143.00,132.00 C146.27,135.58 149.30,138.38 153.80,141.50 C158.30,144.62 165.13,148.63 170.00,150.70 C174.87,152.77 179.17,153.12 183.00,153.90 C186.83,154.68 189.33,155.02 193.00,155.40 C196.67,155.78 198.83,156.02 205.00,156.20 C211.17,156.38 225.83,156.45 230.00,156.50" fill="none" stroke="#b03535" stroke-width="0.9" stroke-dasharray="2.8,2.2" stroke-linejoin="round"/>
<path d="M89.70,129.30 C90.00,128.42 90.83,125.63 91.50,124.00 C92.17,122.37 92.95,120.75 93.70,119.50 C94.45,118.25 95.18,117.30 96.00,116.50 C96.82,115.70 97.60,115.70 98.60,114.70 C99.60,113.70 100.88,111.62 102.00,110.50 C103.12,109.38 104.25,107.95 105.30,108.00 C106.35,108.05 107.35,110.20 108.30,110.80 C109.25,111.40 110.05,111.50 111.00,111.60 C111.95,111.70 113.00,111.08 114.00,111.40 C115.00,111.72 115.78,112.42 117.00,113.50 C118.22,114.58 119.47,116.07 121.30,117.90 C123.13,119.73 125.30,121.80 128.00,124.50 C130.70,127.20 134.67,131.35 137.50,134.10 C140.33,136.85 142.28,138.82 145.00,141.00 C147.72,143.18 149.63,145.25 153.80,147.20 C157.97,149.15 164.80,151.35 170.00,152.70 C175.20,154.05 180.00,154.73 185.00,155.30 C190.00,155.87 192.50,155.90 200.00,156.10 C207.50,156.30 225.00,156.43 230.00,156.50" fill="none" stroke="#9a9a20" stroke-width="0.9" stroke-linejoin="round"/>
<path d="M94.60,132.60 C95.13,132.47 96.82,132.73 97.80,131.80 C98.78,130.87 99.68,128.50 100.50,127.00 C101.32,125.50 101.98,123.67 102.70,122.80 C103.42,121.93 104.12,121.90 104.80,121.80 C105.48,121.70 106.10,121.77 106.80,122.20 C107.50,122.63 108.30,124.38 109.00,124.40 C109.70,124.42 110.32,122.85 111.00,122.30 C111.68,121.75 111.93,121.30 113.10,121.10 C114.27,120.90 116.52,120.75 118.00,121.10 C119.48,121.45 120.65,122.38 122.00,123.20 C123.35,124.02 123.52,124.45 126.10,126.00 C128.68,127.55 133.43,129.65 137.50,132.50 C141.57,135.35 145.08,139.97 150.50,143.10 C155.92,146.23 163.42,149.27 170.00,151.30 C176.58,153.33 184.17,154.48 190.00,155.30 C195.83,156.12 198.33,156.00 205.00,156.20 C211.67,156.40 225.83,156.45 230.00,156.50" fill="none" stroke="#4a84d0" stroke-width="0.9" stroke-dasharray="3,1.2,1,1.2" stroke-linejoin="round"/>
</g>
<g clip-path="url(#cB)">
<path d="M270.80,156.30 C272.00,156.25 275.63,156.13 278.00,156.00 C280.37,155.87 281.80,155.73 285.00,155.50 C288.20,155.27 291.37,154.78 297.20,154.60 C303.03,154.42 312.53,154.37 320.00,154.40 C327.47,154.43 332.00,154.57 342.00,154.80 C352.00,155.03 367.00,155.55 380.00,155.80 C393.00,156.05 407.67,156.20 420.00,156.30 C432.33,156.40 448.33,156.38 454.00,156.40" fill="none" stroke="#333" stroke-width="0.9" stroke-linejoin="round"/>
<path d="M275.40,156.30 C275.92,156.03 277.38,155.33 278.50,154.70 C279.62,154.07 281.10,153.15 282.10,152.50 C283.10,151.85 283.72,151.35 284.50,150.80 C285.28,150.25 286.02,149.73 286.80,149.20 C287.58,148.67 288.40,148.08 289.20,147.60 C290.00,147.12 290.80,146.65 291.60,146.30 C292.40,145.95 293.22,145.68 294.00,145.50 C294.78,145.32 295.13,145.22 296.30,145.20 C297.47,145.18 299.10,145.22 301.00,145.40 C302.90,145.58 305.37,145.85 307.70,146.30 C310.03,146.75 312.33,147.55 315.00,148.10 C317.67,148.65 319.20,148.90 323.70,149.60 C328.20,150.30 336.73,151.55 342.00,152.30 C347.27,153.05 348.55,153.47 355.30,154.10 C362.05,154.73 371.72,155.72 382.50,156.10 C393.28,156.48 408.08,156.33 420.00,156.40 C431.92,156.47 448.33,156.48 454.00,156.50" fill="none" stroke="#ff2020" stroke-width="0.9" stroke-linejoin="round"/>
<path d="M280.20,151.60 C280.60,151.03 281.97,149.32 282.60,148.20 C283.23,147.08 283.53,146.17 284.00,144.90 C284.47,143.63 284.85,141.95 285.40,140.60 C285.95,139.25 286.52,138.22 287.30,136.80 C288.08,135.38 289.23,133.28 290.10,132.10 C290.97,130.92 291.62,130.32 292.50,129.70 C293.38,129.08 294.37,128.63 295.40,128.40 C296.43,128.17 297.68,128.23 298.70,128.30 C299.72,128.37 300.17,128.32 301.50,128.80 C302.83,129.28 304.88,130.33 306.70,131.20 C308.52,132.07 309.57,132.68 312.40,134.00 C315.23,135.32 319.93,137.33 323.70,139.10 C327.47,140.87 330.85,142.90 335.00,144.60 C339.15,146.30 342.95,147.72 348.60,149.30 C354.25,150.88 360.33,152.98 368.90,154.10 C377.47,155.22 385.82,155.62 400.00,156.00 C414.18,156.38 445.00,156.33 454.00,156.40" fill="none" stroke="#3030ff" stroke-width="0.9" stroke-dasharray="1,3" stroke-linejoin="round"/>
<path d="M284.90,137.30 C285.33,136.17 286.62,132.55 287.50,130.50 C288.38,128.45 289.37,126.67 290.20,125.00 C291.03,123.33 291.77,121.68 292.50,120.50 C293.23,119.32 293.77,118.45 294.60,117.90 C295.43,117.35 296.62,117.38 297.50,117.20 C298.38,117.02 298.98,117.23 299.90,116.80 C300.82,116.37 301.97,115.30 303.00,114.60 C304.03,113.90 305.02,113.30 306.10,112.60 C307.18,111.90 308.33,111.05 309.50,110.40 C310.67,109.75 311.77,109.10 313.10,108.70 C314.43,108.30 316.03,108.08 317.50,108.00 C318.97,107.92 320.57,108.03 321.90,108.20 C323.23,108.37 324.32,108.55 325.50,109.00 C326.68,109.45 327.83,110.08 329.00,110.90 C330.17,111.72 331.33,112.63 332.50,113.90 C333.67,115.17 334.42,116.48 336.00,118.50 C337.58,120.52 339.45,122.67 342.00,126.00 C344.55,129.33 347.95,135.28 351.30,138.50 C354.65,141.72 358.03,143.27 362.10,145.30 C366.17,147.33 370.05,149.23 375.70,150.70 C381.35,152.17 388.62,153.25 396.00,154.10 C403.38,154.95 410.33,155.43 420.00,155.80 C429.67,156.17 448.33,156.22 454.00,156.30" fill="none" stroke="#ff00ff" stroke-width="0.9" stroke-linejoin="round"/>
<path d="M290.20,143.50 C290.78,142.62 292.73,139.28 293.70,138.20 C294.67,137.12 295.27,137.30 296.00,137.00 C296.73,136.70 297.43,136.77 298.10,136.40 C298.77,136.03 299.42,135.53 300.00,134.80 C300.58,134.07 301.10,133.30 301.60,132.00 C302.10,130.70 302.55,128.77 303.00,127.00 C303.45,125.23 303.80,123.57 304.30,121.40 C304.80,119.23 305.43,116.48 306.00,114.00 C306.57,111.52 307.03,109.83 307.70,106.50 C308.37,103.17 309.18,97.72 310.00,94.00 C310.82,90.28 311.77,87.20 312.60,84.20 C313.43,81.20 314.18,78.45 315.00,76.00 C315.82,73.55 316.50,71.33 317.50,69.50 C318.50,67.67 319.65,66.02 321.00,65.00 C322.35,63.98 324.18,63.23 325.60,63.40 C327.02,63.57 328.15,64.70 329.50,66.00 C330.85,67.30 332.28,68.87 333.70,71.20 C335.12,73.53 336.63,76.75 338.00,80.00 C339.37,83.25 340.43,86.70 341.90,90.70 C343.37,94.70 345.28,100.03 346.80,104.00 C348.32,107.97 349.58,111.02 351.00,114.50 C352.42,117.98 353.00,121.13 355.30,124.90 C357.60,128.67 360.95,133.37 364.80,137.10 C368.65,140.83 373.20,144.58 378.40,147.30 C383.60,150.02 389.07,151.95 396.00,153.40 C402.93,154.85 410.33,155.50 420.00,156.00 C429.67,156.50 448.33,156.33 454.00,156.40" fill="none" stroke="#2ea02e" stroke-width="0.9" stroke-linejoin="round"/>
<path d="M294.40,150.60 C294.83,150.17 296.13,148.95 297.00,148.00 C297.87,147.05 298.85,146.20 299.60,144.90 C300.35,143.60 300.87,142.10 301.50,140.20 C302.13,138.30 302.85,135.72 303.40,133.50 C303.95,131.28 304.37,129.48 304.80,126.90 C305.23,124.32 305.60,120.82 306.00,118.00 C306.40,115.18 306.87,113.00 307.20,110.00 C307.53,107.00 307.62,103.33 308.00,100.00 C308.38,96.67 308.92,94.17 309.50,90.00 C310.08,85.83 310.78,80.00 311.50,75.00 C312.22,70.00 313.13,63.67 313.80,60.00 C314.47,56.33 314.88,55.17 315.50,53.00 C316.12,50.83 316.55,49.05 317.50,47.00 C318.45,44.95 320.12,42.48 321.20,40.70 C322.28,38.92 323.05,37.43 324.00,36.30 C324.95,35.17 325.98,34.12 326.90,33.90 C327.82,33.68 328.65,34.32 329.50,35.00 C330.35,35.68 331.17,36.17 332.00,38.00 C332.83,39.83 333.58,42.33 334.50,46.00 C335.42,49.67 336.42,55.67 337.50,60.00 C338.58,64.33 339.83,68.50 341.00,72.00 C342.17,75.50 343.42,78.00 344.50,81.00 C345.58,84.00 346.25,86.17 347.50,90.00 C348.75,93.83 350.28,99.00 352.00,104.00 C353.72,109.00 355.47,115.17 357.80,120.00 C360.13,124.83 363.63,129.67 366.00,133.00 C368.37,136.33 369.72,137.67 372.00,140.00 C374.28,142.33 375.70,144.77 379.70,147.00 C383.70,149.23 389.28,151.90 396.00,153.40 C402.72,154.90 410.33,155.50 420.00,156.00 C429.67,156.50 448.33,156.33 454.00,156.40" fill="none" stroke="#3535a5" stroke-width="0.9" stroke-dasharray="2.8,2.2" stroke-linejoin="round"/>
<path d="M299.90,150.50 C300.17,149.75 300.98,147.75 301.50,146.00 C302.02,144.25 302.53,142.17 303.00,140.00 C303.47,137.83 303.88,135.50 304.30,133.00 C304.72,130.50 305.12,127.67 305.50,125.00 C305.88,122.33 306.23,119.83 306.60,117.00 C306.97,114.17 307.33,112.17 307.70,108.00 C308.07,103.83 308.40,97.33 308.80,92.00 C309.20,86.67 309.65,80.17 310.10,76.00 C310.55,71.83 311.02,69.67 311.50,67.00 C311.98,64.33 312.25,63.67 313.00,60.00 C313.75,56.33 314.92,50.12 316.00,45.00 C317.08,39.88 318.33,33.47 319.50,29.30 C320.67,25.13 322.08,22.18 323.00,20.00 C323.92,17.82 324.35,17.08 325.00,16.20 C325.65,15.32 326.27,14.70 326.90,14.70 C327.53,14.70 328.20,15.32 328.80,16.20 C329.40,17.08 329.60,17.82 330.50,20.00 C331.40,22.18 333.12,25.97 334.20,29.30 C335.28,32.63 336.00,35.22 337.00,40.00 C338.00,44.78 339.03,52.67 340.20,58.00 C341.37,63.33 342.53,66.67 344.00,72.00 C345.47,77.33 347.50,84.83 349.00,90.00 C350.50,95.17 351.83,99.33 353.00,103.00 C354.17,106.67 354.83,109.00 356.00,112.00 C357.17,115.00 358.30,117.72 360.00,121.00 C361.70,124.28 364.20,128.70 366.20,131.70 C368.20,134.70 369.75,136.52 372.00,139.00 C374.25,141.48 377.20,144.63 379.70,146.60 C382.20,148.57 384.28,149.67 387.00,150.80 C389.72,151.93 392.02,152.57 396.00,153.40 C399.98,154.23 401.23,155.30 410.90,155.80 C420.57,156.30 446.82,156.30 454.00,156.40" fill="none" stroke="#9a30ff" stroke-width="0.9" stroke-linejoin="round"/>
<path d="M303.00,148.00 C303.33,146.50 304.33,142.00 305.00,139.00 C305.67,136.00 306.40,133.17 307.00,130.00 C307.60,126.83 308.10,123.33 308.60,120.00 C309.10,116.67 309.60,113.33 310.00,110.00 C310.40,106.67 310.67,103.33 311.00,100.00 C311.33,96.67 311.67,93.33 312.00,90.00 C312.33,86.67 312.67,83.33 313.00,80.00 C313.33,76.67 313.50,73.50 314.00,70.00 C314.50,66.50 315.33,62.33 316.00,59.00 C316.67,55.67 317.08,53.08 318.00,50.00 C318.92,46.92 320.50,42.78 321.50,40.50 C322.50,38.22 323.10,37.40 324.00,36.30 C324.90,35.20 325.98,34.12 326.90,33.90 C327.82,33.68 328.65,34.32 329.50,35.00 C330.35,35.68 331.17,36.17 332.00,38.00 C332.83,39.83 333.58,42.33 334.50,46.00 C335.42,49.67 336.42,55.67 337.50,60.00 C338.58,64.33 339.83,68.50 341.00,72.00 C342.17,75.50 343.42,78.00 344.50,81.00 C345.58,84.00 346.25,86.17 347.50,90.00 C348.75,93.83 350.28,99.00 352.00,104.00 C353.72,109.00 355.47,115.17 357.80,120.00 C360.13,124.83 363.63,129.67 366.00,133.00 C368.37,136.33 369.72,137.67 372.00,140.00 C374.28,142.33 375.70,144.77 379.70,147.00 C383.70,149.23 389.28,151.90 396.00,153.40 C402.72,154.90 410.33,155.50 420.00,156.00 C429.67,156.50 448.33,156.33 454.00,156.40" fill="none" stroke="#a030a0" stroke-width="0.9" stroke-linejoin="round"/>
<path d="M304.00,140.00 C304.38,137.83 305.55,131.17 306.30,127.00 C307.05,122.83 307.80,119.50 308.50,115.00 C309.20,110.50 309.83,104.50 310.50,100.00 C311.17,95.50 311.67,92.50 312.50,88.00 C313.33,83.50 314.55,77.67 315.50,73.00 C316.45,68.33 317.37,63.17 318.20,60.00 C319.03,56.83 319.87,55.67 320.50,54.00 C321.13,52.33 321.33,51.50 322.00,50.00 C322.67,48.50 323.68,46.13 324.50,45.00 C325.32,43.87 326.15,43.28 326.90,43.20 C327.65,43.12 328.32,43.87 329.00,44.50 C329.68,45.13 330.33,45.58 331.00,47.00 C331.67,48.42 332.33,50.83 333.00,53.00 C333.67,55.17 334.17,57.17 335.00,60.00 C335.83,62.83 337.00,66.83 338.00,70.00 C339.00,73.17 339.83,75.67 341.00,79.00 C342.17,82.33 343.42,85.67 345.00,90.00 C346.58,94.33 348.65,100.00 350.50,105.00 C352.35,110.00 353.68,115.17 356.10,120.00 C358.52,124.83 362.35,130.42 365.00,134.00 C367.65,137.58 369.55,139.25 372.00,141.50 C374.45,143.75 375.70,145.50 379.70,147.50 C383.70,149.50 389.28,152.08 396.00,153.50 C402.72,154.92 410.33,155.52 420.00,156.00 C429.67,156.48 448.33,156.33 454.00,156.40" fill="none" stroke="#b03535" stroke-width="0.9" stroke-dasharray="2.8,2.2" stroke-linejoin="round"/>
<path d="M314.00,121.40 C314.28,120.52 315.03,117.42 315.70,116.10 C316.37,114.78 317.27,114.23 318.00,113.50 C318.73,112.77 319.43,112.37 320.10,111.70 C320.77,111.03 321.40,110.23 322.00,109.50 C322.60,108.77 323.03,108.13 323.70,107.30 C324.37,106.47 325.27,105.23 326.00,104.50 C326.73,103.77 327.38,102.93 328.10,102.90 C328.82,102.87 329.57,103.57 330.30,104.30 C331.03,105.03 331.72,106.18 332.50,107.30 C333.28,108.42 334.12,109.82 335.00,111.00 C335.88,112.18 336.67,113.22 337.80,114.40 C338.93,115.58 340.00,116.12 341.80,118.10 C343.60,120.08 346.40,123.85 348.60,126.30 C350.80,128.75 352.75,130.77 355.00,132.80 C357.25,134.83 359.60,136.63 362.10,138.50 C364.60,140.37 367.28,142.42 370.00,144.00 C372.72,145.58 374.07,146.42 378.40,148.00 C382.73,149.58 389.07,152.17 396.00,153.50 C402.93,154.83 410.33,155.52 420.00,156.00 C429.67,156.48 448.33,156.33 454.00,156.40" fill="none" stroke="#9a9a20" stroke-width="0.9" stroke-linejoin="round"/>
<path d="M318.40,130.20 C318.75,130.22 319.77,130.43 320.50,130.30 C321.23,130.17 321.97,130.28 322.80,129.40 C323.63,128.52 324.62,126.47 325.50,125.00 C326.38,123.53 327.30,120.85 328.10,120.60 C328.90,120.35 329.57,122.48 330.30,123.50 C331.03,124.52 331.48,125.67 332.50,126.70 C333.52,127.73 334.85,128.87 336.40,129.70 C337.95,130.53 339.87,130.57 341.80,131.70 C343.73,132.83 345.75,134.80 348.00,136.50 C350.25,138.20 352.97,140.48 355.30,141.90 C357.63,143.32 359.73,144.10 362.00,145.00 C364.27,145.90 365.90,146.30 368.90,147.30 C371.90,148.30 376.48,150.05 380.00,151.00 C383.52,151.95 383.33,152.17 390.00,153.00 C396.67,153.83 409.33,155.43 420.00,156.00 C430.67,156.57 448.33,156.33 454.00,156.40" fill="none" stroke="#5a8fd0" stroke-width="0.9" stroke-dasharray="3,1.2,1,1.2" stroke-linejoin="round"/>
</g>
<g clip-path="url(#cC)">
<path d="M46.20,337.30 C55.17,337.28 69.53,337.18 100.00,337.20 C130.47,337.22 207.50,337.37 229.00,337.40" fill="none" stroke="#808080" stroke-width="0.9" stroke-linejoin="round"/>
<path d="M50.60,337.20 C58.83,337.17 70.27,336.98 100.00,337.00 C129.73,337.02 207.50,337.25 229.00,337.30" fill="none" stroke="#ff2020" stroke-width="0.9" stroke-linejoin="round"/>
<path d="M55.00,337.20 C62.50,337.17 71.00,336.98 100.00,337.00 C129.00,337.02 207.50,337.25 229.00,337.30" fill="none" stroke="#3030ff" stroke-width="0.9" stroke-dasharray="1,3" stroke-linejoin="round"/>
<path d="M59.40,336.70 C66.17,336.62 84.90,336.23 100.00,336.20 C115.10,336.17 128.50,336.37 150.00,336.50 C171.50,336.63 215.83,336.92 229.00,337.00" fill="none" stroke="#ff00ff" stroke-width="0.9" stroke-linejoin="round"/>
<path d="M65.60,335.50 C66.62,335.20 69.97,334.37 71.70,333.70 C73.43,333.03 74.53,332.23 76.00,331.50 C77.47,330.77 78.92,330.02 80.50,329.30 C82.08,328.58 83.73,327.78 85.50,327.20 C87.27,326.62 89.43,326.10 91.10,325.80 C92.77,325.50 94.03,325.45 95.50,325.40 C96.97,325.35 98.32,325.35 99.90,325.50 C101.48,325.65 103.23,325.95 105.00,326.30 C106.77,326.65 108.83,327.10 110.50,327.60 C112.17,328.10 113.42,328.72 115.00,329.30 C116.58,329.88 117.58,330.42 120.00,331.10 C122.42,331.78 126.17,332.80 129.50,333.40 C132.83,334.00 135.12,334.28 140.00,334.70 C144.88,335.12 150.47,335.55 158.80,335.90 C167.13,336.25 178.30,336.58 190.00,336.80 C201.70,337.02 222.50,337.13 229.00,337.20" fill="none" stroke="#2ea02e" stroke-width="0.9" stroke-linejoin="round"/>
<path d="M70.00,332.00 C70.50,330.67 72.00,326.83 73.00,324.00 C74.00,321.17 75.08,318.00 76.00,315.00 C76.92,312.00 77.67,308.83 78.50,306.00 C79.33,303.17 80.17,300.67 81.00,298.00 C81.83,295.33 82.55,293.00 83.50,290.00 C84.45,287.00 85.73,283.00 86.70,280.00 C87.67,277.00 88.38,274.10 89.30,272.00 C90.22,269.90 91.33,268.30 92.20,267.40 C93.07,266.50 93.70,266.77 94.50,266.60 C95.30,266.43 96.08,266.60 97.00,266.40 C97.92,266.20 99.05,265.72 100.00,265.40 C100.95,265.08 101.95,264.40 102.70,264.50 C103.45,264.60 103.88,265.20 104.50,266.00 C105.12,266.80 105.65,267.88 106.40,269.30 C107.15,270.72 108.05,272.60 109.00,274.50 C109.95,276.40 111.18,278.87 112.10,280.70 C113.02,282.53 113.70,283.95 114.50,285.50 C115.30,287.05 116.02,287.78 116.90,290.00 C117.78,292.22 118.28,296.00 119.80,298.80 C121.32,301.60 123.57,303.95 126.00,306.80 C128.43,309.65 130.97,312.77 134.40,315.90 C137.83,319.03 143.17,323.45 146.60,325.60 C150.03,327.75 151.75,327.75 155.00,328.80 C158.25,329.85 161.93,330.93 166.10,331.90 C170.27,332.87 176.02,333.93 180.00,334.60 C183.98,335.27 185.83,335.58 190.00,335.90 C194.17,336.22 198.50,336.35 205.00,336.50 C211.50,336.65 225.00,336.75 229.00,336.80" fill="none" stroke="#3535a5" stroke-width="0.9" stroke-dasharray="2.8,2.2" stroke-linejoin="round"/>
<path d="M74.40,327.60 C74.83,326.00 76.23,320.93 77.00,318.00 C77.77,315.07 78.25,313.00 79.00,310.00 C79.75,307.00 80.72,303.33 81.50,300.00 C82.28,296.67 83.03,293.67 83.70,290.00 C84.37,286.33 84.95,282.17 85.50,278.00 C86.05,273.83 86.52,268.98 87.00,265.00 C87.48,261.02 87.93,257.27 88.40,254.10 C88.87,250.93 89.32,248.05 89.80,246.00 C90.28,243.95 90.73,242.47 91.30,241.80 C91.87,241.13 92.57,241.85 93.20,242.00 C93.83,242.15 94.47,243.12 95.10,242.70 C95.73,242.28 96.35,240.62 97.00,239.50 C97.65,238.38 98.33,237.42 99.00,236.00 C99.67,234.58 100.30,232.47 101.00,231.00 C101.70,229.53 102.50,227.37 103.20,227.20 C103.90,227.03 104.50,228.67 105.20,230.00 C105.90,231.33 106.73,233.37 107.40,235.20 C108.07,237.03 108.57,239.12 109.20,241.00 C109.83,242.88 110.65,245.25 111.20,246.50 C111.75,247.75 112.00,247.92 112.50,248.50 C113.00,249.08 113.57,248.92 114.20,250.00 C114.83,251.08 115.62,253.33 116.30,255.00 C116.98,256.67 117.52,257.83 118.30,260.00 C119.08,262.17 119.97,264.83 121.00,268.00 C122.03,271.17 123.25,275.17 124.50,279.00 C125.75,282.83 126.75,287.00 128.50,291.00 C130.25,295.00 132.58,299.25 135.00,303.00 C137.42,306.75 140.17,310.42 143.00,313.50 C145.83,316.58 148.67,319.03 152.00,321.50 C155.33,323.97 159.17,326.47 163.00,328.30 C166.83,330.13 170.58,331.25 175.00,332.50 C179.42,333.75 184.50,335.13 189.50,335.80 C194.50,336.47 198.42,336.33 205.00,336.50 C211.58,336.67 225.00,336.75 229.00,336.80" fill="none" stroke="#9a30ff" stroke-width="0.9" stroke-linejoin="round"/>
<path d="M78.80,317.00 C79.25,314.67 80.63,307.50 81.50,303.00 C82.37,298.50 83.25,294.67 84.00,290.00 C84.75,285.33 85.33,280.00 86.00,275.00 C86.67,270.00 87.42,264.33 88.00,260.00 C88.58,255.67 88.95,252.33 89.50,249.00 C90.05,245.67 90.68,241.42 91.30,240.00 C91.92,238.58 92.57,240.33 93.20,240.50 C93.83,240.67 94.47,241.50 95.10,241.00 C95.73,240.50 96.35,238.67 97.00,237.50 C97.65,236.33 98.33,235.33 99.00,234.00 C99.67,232.67 100.30,230.75 101.00,229.50 C101.70,228.25 102.48,226.50 103.20,226.50 C103.92,226.50 104.60,228.25 105.30,229.50 C106.00,230.75 106.78,232.42 107.40,234.00 C108.02,235.58 108.48,237.33 109.00,239.00 C109.52,240.67 110.00,242.58 110.50,244.00 C111.00,245.42 111.47,246.50 112.00,247.50 C112.53,248.50 112.70,247.92 113.70,250.00 C114.70,252.08 116.38,255.93 118.00,260.00 C119.62,264.07 121.73,270.32 123.40,274.40 C125.07,278.48 126.17,280.85 128.00,284.50 C129.83,288.15 132.40,292.88 134.40,296.30 C136.40,299.72 137.97,302.15 140.00,305.00 C142.03,307.85 143.47,309.97 146.60,313.40 C149.73,316.83 154.33,322.37 158.80,325.60 C163.27,328.83 168.28,331.10 173.40,332.80 C178.52,334.50 184.23,335.18 189.50,335.80 C194.77,336.42 198.42,336.33 205.00,336.50 C211.58,336.67 225.00,336.75 229.00,336.80" fill="none" stroke="#a030a0" stroke-width="0.9" stroke-linejoin="round"/>
<path d="M84.10,310.00 C84.28,306.83 84.80,297.17 85.20,291.00 C85.60,284.83 86.08,279.00 86.50,273.00 C86.92,267.00 87.22,260.67 87.70,255.00 C88.18,249.33 88.97,242.62 89.40,239.00 C89.83,235.38 89.78,234.38 90.30,233.30 C90.82,232.22 91.88,232.22 92.50,232.50 C93.12,232.78 93.57,234.08 94.00,235.00 C94.43,235.92 94.60,238.00 95.10,238.00 C95.60,238.00 96.37,236.10 97.00,235.00 C97.63,233.90 98.40,233.23 98.90,231.40 C99.40,229.57 99.65,226.73 100.00,224.00 C100.35,221.27 100.63,218.00 101.00,215.00 C101.37,212.00 101.80,208.60 102.20,206.00 C102.60,203.40 103.02,199.73 103.40,199.40 C103.78,199.07 104.15,202.23 104.50,204.00 C104.85,205.77 105.17,207.92 105.50,210.00 C105.83,212.08 106.18,214.52 106.50,216.50 C106.82,218.48 107.02,219.98 107.40,221.90 C107.78,223.82 108.33,226.27 108.80,228.00 C109.27,229.73 109.50,231.38 110.20,232.30 C110.90,233.22 112.20,233.18 113.00,233.50 C113.80,233.82 114.37,233.28 115.00,234.20 C115.63,235.12 116.17,237.27 116.80,239.00 C117.43,240.73 118.02,242.27 118.80,244.60 C119.58,246.93 120.55,249.83 121.50,253.00 C122.45,256.17 123.42,259.93 124.50,263.60 C125.58,267.27 126.75,271.22 128.00,275.00 C129.25,278.78 130.93,283.38 132.00,286.30 C133.07,289.22 133.07,289.72 134.40,292.50 C135.73,295.28 137.97,299.58 140.00,303.00 C142.03,306.42 143.47,309.28 146.60,313.00 C149.73,316.72 154.33,322.02 158.80,325.30 C163.27,328.58 168.28,330.95 173.40,332.70 C178.52,334.45 184.23,335.17 189.50,335.80 C194.77,336.43 198.42,336.33 205.00,336.50 C211.58,336.67 225.00,336.75 229.00,336.80" fill="none" stroke="#b03535" stroke-width="0.9" stroke-dasharray="2.8,2.2" stroke-linejoin="round"/>
<path d="M88.40,275.00 C88.53,273.83 88.88,270.22 89.20,268.00 C89.52,265.78 89.88,263.28 90.30,261.70 C90.72,260.12 91.22,259.28 91.70,258.50 C92.18,257.72 92.72,257.22 93.20,257.00 C93.68,256.78 94.13,257.05 94.60,257.20 C95.07,257.35 95.52,258.85 96.00,257.90 C96.48,256.95 97.02,253.72 97.50,251.50 C97.98,249.28 98.35,247.18 98.90,244.60 C99.45,242.02 100.17,238.68 100.80,236.00 C101.43,233.32 102.12,229.25 102.70,228.50 C103.28,227.75 103.75,230.25 104.30,231.50 C104.85,232.75 105.38,234.50 106.00,236.00 C106.62,237.50 107.30,239.07 108.00,240.50 C108.70,241.93 109.28,243.02 110.20,244.60 C111.12,246.18 112.38,248.25 113.50,250.00 C114.62,251.75 115.82,252.77 116.90,255.10 C117.98,257.43 118.92,260.78 120.00,264.00 C121.08,267.22 122.07,270.98 123.40,274.40 C124.73,277.82 126.17,280.85 128.00,284.50 C129.83,288.15 132.40,292.88 134.40,296.30 C136.40,299.72 137.97,302.15 140.00,305.00 C142.03,307.85 143.47,309.97 146.60,313.40 C149.73,316.83 154.33,322.37 158.80,325.60 C163.27,328.83 168.28,331.10 173.40,332.80 C178.52,334.50 184.23,335.18 189.50,335.80 C194.77,336.42 198.42,336.33 205.00,336.50 C211.58,336.67 225.00,336.75 229.00,336.80" fill="none" stroke="#9a9a20" stroke-width="0.9" stroke-linejoin="round"/>
<path d="M95.10,248.40 C95.32,247.17 95.97,243.40 96.40,241.00 C96.83,238.60 97.28,236.83 97.70,234.00 C98.12,231.17 98.50,227.27 98.90,224.00 C99.30,220.73 99.62,217.40 100.10,214.40 C100.58,211.40 101.25,208.43 101.80,206.00 C102.35,203.57 102.87,199.80 103.40,199.80 C103.93,199.80 104.47,203.57 105.00,206.00 C105.53,208.43 106.13,211.73 106.60,214.40 C107.07,217.07 107.38,219.55 107.80,222.00 C108.22,224.45 108.57,227.10 109.10,229.10 C109.63,231.10 110.32,232.65 111.00,234.00 C111.68,235.35 112.50,236.20 113.20,237.20 C113.90,238.20 114.53,238.92 115.20,240.00 C115.87,241.08 116.40,241.03 117.20,243.70 C118.00,246.37 118.97,251.28 120.00,256.00 C121.03,260.72 122.07,267.33 123.40,272.00 C124.73,276.67 126.17,280.08 128.00,284.00 C129.83,287.92 132.40,292.08 134.40,295.50 C136.40,298.92 137.97,301.58 140.00,304.50 C142.03,307.42 143.47,309.53 146.60,313.00 C149.73,316.47 154.33,322.02 158.80,325.30 C163.27,328.58 168.28,330.95 173.40,332.70 C178.52,334.45 184.23,335.17 189.50,335.80 C194.77,336.43 198.42,336.33 205.00,336.50 C211.58,336.67 225.00,336.75 229.00,336.80" fill="none" stroke="#4a84d0" stroke-width="0.9" stroke-dasharray="3,1.2,1,1.2" stroke-linejoin="round"/>
</g>
<g clip-path="url(#cD)">
<path d="M271.70,337.70 C276.42,337.68 269.62,337.60 300.00,337.60 C330.38,337.60 428.33,337.68 454.00,337.70" fill="none" stroke="#333" stroke-width="0.9" stroke-linejoin="round"/>
<path d="M276.00,337.40 C280.00,337.37 270.33,337.18 300.00,337.20 C329.67,337.22 428.33,337.45 454.00,337.50" fill="none" stroke="#ff2020" stroke-width="0.9" stroke-linejoin="round"/>
<path d="M280.00,337.30 C283.33,337.25 271.00,336.97 300.00,337.00 C329.00,337.03 428.33,337.42 454.00,337.50" fill="none" stroke="#3030ff" stroke-width="0.9" stroke-dasharray="1,3" stroke-linejoin="round"/>
<path d="M288.00,336.40 C290.00,336.35 289.67,336.13 300.00,336.10 C310.33,336.07 324.33,336.05 350.00,336.20 C375.67,336.35 436.67,336.87 454.00,337.00" fill="none" stroke="#ff00ff" stroke-width="0.9" stroke-linejoin="round"/>
<path d="M290.10,333.80 C290.67,333.43 292.23,332.33 293.50,331.60 C294.77,330.87 296.28,330.23 297.70,329.40 C299.12,328.57 300.55,327.50 302.00,326.60 C303.45,325.70 304.93,324.85 306.40,324.00 C307.87,323.15 309.35,322.22 310.80,321.50 C312.25,320.78 313.57,320.07 315.10,319.70 C316.63,319.33 318.38,319.30 320.00,319.30 C321.62,319.30 323.18,319.33 324.80,319.70 C326.42,320.07 328.07,320.78 329.70,321.50 C331.33,322.22 332.38,323.05 334.60,324.00 C336.82,324.95 339.68,325.92 343.00,327.20 C346.32,328.48 350.33,330.57 354.50,331.70 C358.67,332.83 363.12,333.30 368.00,334.00 C372.88,334.70 376.80,335.43 383.80,335.90 C390.80,336.37 398.30,336.57 410.00,336.80 C421.70,337.03 446.67,337.22 454.00,337.30" fill="none" stroke="#2ea02e" stroke-width="0.9" stroke-linejoin="round"/>
<path d="M295.50,329.40 C296.05,327.83 297.72,323.23 298.80,320.00 C299.88,316.77 301.05,313.33 302.00,310.00 C302.95,306.67 303.67,303.33 304.50,300.00 C305.33,296.67 306.17,294.17 307.00,290.00 C307.83,285.83 308.70,279.67 309.50,275.00 C310.30,270.33 311.17,265.00 311.80,262.00 C312.43,259.00 312.78,258.05 313.30,257.00 C313.82,255.95 314.23,255.97 314.90,255.70 C315.57,255.43 316.52,255.47 317.30,255.40 C318.08,255.33 318.65,255.70 319.60,255.30 C320.55,254.90 321.88,253.73 323.00,253.00 C324.12,252.27 325.30,250.40 326.30,250.90 C327.30,251.40 328.17,254.15 329.00,256.00 C329.83,257.85 330.55,260.33 331.30,262.00 C332.05,263.67 332.72,264.33 333.50,266.00 C334.28,267.67 335.00,270.00 336.00,272.00 C337.00,274.00 338.33,275.92 339.50,278.00 C340.67,280.08 341.72,281.67 343.00,284.50 C344.28,287.33 345.53,291.58 347.20,295.00 C348.87,298.42 350.97,301.93 353.00,305.00 C355.03,308.07 357.40,310.98 359.40,313.40 C361.40,315.82 362.97,317.67 365.00,319.50 C367.03,321.33 369.10,322.82 371.60,324.40 C374.10,325.98 376.75,327.63 380.00,329.00 C383.25,330.37 387.77,331.63 391.10,332.60 C394.43,333.57 396.85,334.20 400.00,334.80 C403.15,335.40 405.00,335.83 410.00,336.20 C415.00,336.57 422.67,336.82 430.00,337.00 C437.33,337.18 450.00,337.25 454.00,337.30" fill="none" stroke="#3535a5" stroke-width="0.9" stroke-dasharray="2.8,2.2" stroke-linejoin="round"/>
<path d="M298.80,326.20 C299.25,324.50 300.63,319.37 301.50,316.00 C302.37,312.63 303.17,309.50 304.00,306.00 C304.83,302.50 305.67,298.83 306.50,295.00 C307.33,291.17 308.25,286.83 309.00,283.00 C309.75,279.17 310.35,276.17 311.00,272.00 C311.65,267.83 312.45,262.50 312.90,258.00 C313.35,253.50 313.37,249.17 313.70,245.00 C314.03,240.83 314.38,234.83 314.90,233.00 C315.42,231.17 316.17,233.70 316.80,234.00 C317.43,234.30 318.07,234.88 318.70,234.80 C319.33,234.72 319.97,233.97 320.60,233.50 C321.23,233.03 321.78,233.25 322.50,232.00 C323.22,230.75 324.12,227.90 324.90,226.00 C325.68,224.10 326.35,220.27 327.20,220.60 C328.05,220.93 329.05,225.00 330.00,228.00 C330.95,231.00 332.10,236.18 332.90,238.60 C333.70,241.02 334.17,241.23 334.80,242.50 C335.43,243.77 336.00,244.87 336.70,246.20 C337.40,247.53 338.22,248.92 339.00,250.50 C339.78,252.08 340.68,254.03 341.40,255.70 C342.12,257.37 342.67,258.95 343.30,260.50 C343.93,262.05 344.55,263.33 345.20,265.00 C345.85,266.67 345.90,267.17 347.20,270.50 C348.50,273.83 350.97,280.28 353.00,285.00 C355.03,289.72 357.40,294.80 359.40,298.80 C361.40,302.80 362.97,305.97 365.00,309.00 C367.03,312.03 369.10,314.42 371.60,317.00 C374.10,319.58 376.75,322.33 380.00,324.50 C383.25,326.67 387.77,328.58 391.10,330.00 C394.43,331.42 397.18,332.13 400.00,333.00 C402.82,333.87 405.33,334.63 408.00,335.20 C410.67,335.77 412.33,336.10 416.00,336.40 C419.67,336.70 423.67,336.85 430.00,337.00 C436.33,337.15 450.00,337.25 454.00,337.30" fill="none" stroke="#9a30ff" stroke-width="0.9" stroke-linejoin="round"/>
<path d="M303.10,315.30 C303.67,312.42 305.35,303.88 306.50,298.00 C307.65,292.12 309.08,285.33 310.00,280.00 C310.92,274.67 311.42,270.50 312.00,266.00 C312.58,261.50 312.85,257.25 313.50,253.00 C314.15,248.75 315.23,242.33 315.90,240.50 C316.57,238.67 316.98,241.58 317.50,242.00 C318.02,242.42 318.45,243.25 319.00,243.00 C319.55,242.75 320.22,241.33 320.80,240.50 C321.38,239.67 321.82,239.67 322.50,238.00 C323.18,236.33 324.12,232.93 324.90,230.50 C325.68,228.07 326.35,223.32 327.20,223.40 C328.05,223.48 329.05,228.23 330.00,231.00 C330.95,233.77 332.10,237.83 332.90,240.00 C333.70,242.17 334.17,242.67 334.80,244.00 C335.43,245.33 336.00,246.58 336.70,248.00 C337.40,249.42 338.22,251.00 339.00,252.50 C339.78,254.00 340.52,254.92 341.40,257.00 C342.28,259.08 343.33,262.33 344.30,265.00 C345.27,267.67 345.75,269.50 347.20,273.00 C348.65,276.50 350.97,281.70 353.00,286.00 C355.03,290.30 357.40,294.97 359.40,298.80 C361.40,302.63 362.97,305.97 365.00,309.00 C367.03,312.03 369.10,314.42 371.60,317.00 C374.10,319.58 376.75,322.33 380.00,324.50 C383.25,326.67 387.77,328.58 391.10,330.00 C394.43,331.42 397.18,332.13 400.00,333.00 C402.82,333.87 405.33,334.63 408.00,335.20 C410.67,335.77 412.33,336.10 416.00,336.40 C419.67,336.70 423.67,336.85 430.00,337.00 C436.33,337.15 450.00,337.25 454.00,337.30" fill="none" stroke="#a030a0" stroke-width="0.9" stroke-linejoin="round"/>
<path d="M308.60,309.90 C308.87,308.42 309.67,303.90 310.20,301.00 C310.73,298.10 311.42,296.00 311.80,292.50 C312.18,289.00 312.25,285.08 312.50,280.00 C312.75,274.92 313.03,268.17 313.30,262.00 C313.57,255.83 313.83,248.67 314.10,243.00 C314.37,237.33 314.50,230.83 314.90,228.00 C315.30,225.17 315.90,226.00 316.50,226.00 C317.10,226.00 317.82,226.85 318.50,228.00 C319.18,229.15 320.02,232.90 320.60,232.90 C321.18,232.90 321.52,230.32 322.00,228.00 C322.48,225.68 322.95,222.50 323.50,219.00 C324.05,215.50 324.68,210.53 325.30,207.00 C325.92,203.47 326.58,198.30 327.20,197.80 C327.82,197.30 328.37,201.55 329.00,204.00 C329.63,206.45 330.42,209.67 331.00,212.50 C331.58,215.33 332.00,218.42 332.50,221.00 C333.00,223.58 333.37,226.17 334.00,228.00 C334.63,229.83 335.53,230.87 336.30,232.00 C337.07,233.13 337.90,233.30 338.60,234.80 C339.30,236.30 339.87,238.78 340.50,241.00 C341.13,243.22 341.77,245.68 342.40,248.10 C343.03,250.52 343.67,252.98 344.30,255.50 C344.93,258.02 345.58,260.78 346.20,263.20 C346.82,265.62 347.43,268.13 348.00,270.00 C348.57,271.87 348.52,271.73 349.60,274.40 C350.68,277.07 352.87,282.35 354.50,286.00 C356.13,289.65 357.65,292.88 359.40,296.30 C361.15,299.72 362.97,303.23 365.00,306.50 C367.03,309.77 369.10,313.07 371.60,315.90 C374.10,318.73 377.15,321.32 380.00,323.50 C382.85,325.68 385.37,327.42 388.70,329.00 C392.03,330.58 396.75,331.97 400.00,333.00 C403.25,334.03 405.53,334.63 408.20,335.20 C410.87,335.77 412.37,336.10 416.00,336.40 C419.63,336.70 423.67,336.85 430.00,337.00 C436.33,337.15 450.00,337.25 454.00,337.30" fill="none" stroke="#b03535" stroke-width="0.9" stroke-dasharray="2.8,2.2" stroke-linejoin="round"/>
<path d="M314.00,273.00 C314.15,271.50 314.58,266.83 314.90,264.00 C315.22,261.17 315.50,257.28 315.90,256.00 C316.30,254.72 316.83,256.20 317.30,256.30 C317.77,256.40 318.08,257.57 318.70,256.60 C319.32,255.63 320.22,252.55 321.00,250.50 C321.78,248.45 322.57,246.55 323.40,244.30 C324.23,242.05 325.12,239.05 326.00,237.00 C326.88,234.95 327.90,231.50 328.70,232.00 C329.50,232.50 330.10,237.32 330.80,240.00 C331.50,242.68 332.32,246.15 332.90,248.10 C333.48,250.05 333.82,250.60 334.30,251.70 C334.78,252.80 335.22,253.82 335.80,254.70 C336.38,255.58 337.12,256.37 337.80,257.00 C338.48,257.63 339.30,258.08 339.90,258.50 C340.50,258.92 340.67,258.25 341.40,259.50 C342.13,260.75 343.33,263.67 344.30,266.00 C345.27,268.33 345.75,270.08 347.20,273.50 C348.65,276.92 350.97,282.28 353.00,286.50 C355.03,290.72 357.40,295.05 359.40,298.80 C361.40,302.55 362.97,305.97 365.00,309.00 C367.03,312.03 369.10,314.42 371.60,317.00 C374.10,319.58 376.75,322.33 380.00,324.50 C383.25,326.67 387.77,328.58 391.10,330.00 C394.43,331.42 397.18,332.13 400.00,333.00 C402.82,333.87 405.33,334.63 408.00,335.20 C410.67,335.77 412.33,336.10 416.00,336.40 C419.67,336.70 423.67,336.85 430.00,337.00 C436.33,337.15 450.00,337.25 454.00,337.30" fill="none" stroke="#9a9a20" stroke-width="0.9" stroke-linejoin="round"/>
<path d="M316.50,262.00 C316.75,261.00 317.50,258.33 318.00,256.00 C318.50,253.67 319.00,250.67 319.50,248.00 C320.00,245.33 320.50,243.00 321.00,240.00 C321.50,237.00 322.00,233.00 322.50,230.00 C323.00,227.00 323.50,224.83 324.00,222.00 C324.50,219.17 325.03,215.50 325.50,213.00 C325.97,210.50 326.35,208.58 326.80,207.00 C327.25,205.42 327.72,203.17 328.20,203.50 C328.68,203.83 329.20,206.92 329.70,209.00 C330.20,211.08 330.70,213.50 331.20,216.00 C331.70,218.50 332.20,221.50 332.70,224.00 C333.20,226.50 333.68,228.83 334.20,231.00 C334.72,233.17 335.23,235.08 335.80,237.00 C336.37,238.92 336.98,241.00 337.60,242.50 C338.22,244.00 338.87,244.92 339.50,246.00 C340.13,247.08 340.77,247.50 341.40,249.00 C342.03,250.50 342.67,252.83 343.30,255.00 C343.93,257.17 344.55,259.50 345.20,262.00 C345.85,264.50 345.90,266.17 347.20,270.00 C348.50,273.83 350.97,280.28 353.00,285.00 C355.03,289.72 357.40,294.38 359.40,298.30 C361.40,302.22 362.97,305.47 365.00,308.50 C367.03,311.53 369.10,313.92 371.60,316.50 C374.10,319.08 376.75,321.75 380.00,324.00 C383.25,326.25 387.77,328.50 391.10,330.00 C394.43,331.50 397.18,332.13 400.00,333.00 C402.82,333.87 405.33,334.63 408.00,335.20 C410.67,335.77 412.33,336.10 416.00,336.40 C419.67,336.70 423.67,336.85 430.00,337.00 C436.33,337.15 450.00,337.25 454.00,337.30" fill="none" stroke="#4a84d0" stroke-width="0.9" stroke-dasharray="3,1.2,1,1.2" stroke-linejoin="round"/>
</g>
<line x1="185.10" y1="79.00" x2="198.50" y2="79.00" stroke="#505050" stroke-width="0.95"/>
<text x="199.80" y="80.94" font-family='"Liberation Serif", serif' font-size="5.7" font-weight="bold" text-anchor="start" fill="#111">Ex 300 nm</text>
<line x1="185.10" y1="86.17" x2="198.50" y2="86.17" stroke="#ff2020" stroke-width="0.95"/>
<text x="199.80" y="88.11" font-family='"Liberation Serif", serif' font-size="5.7" font-weight="bold" text-anchor="start" fill="#111">Ex 310 nm</text>
<line x1="185.10" y1="93.34" x2="198.50" y2="93.34" stroke="#a4a4ff" stroke-width="0.95"/>
<text x="199.80" y="95.28" font-family='"Liberation Serif", serif' font-size="5.7" font-weight="bold" text-anchor="start" fill="#111">Ex 320 nm</text>
<line x1="185.10" y1="100.51" x2="198.50" y2="100.51" stroke="#ff00ff" stroke-width="0.95"/>
<text x="199.80" y="102.45" font-family='"Liberation Serif", serif' font-size="5.7" font-weight="bold" text-anchor="start" fill="#111">Ex 330 nm</text>
<line x1="185.10" y1="107.68" x2="198.50" y2="107.68" stroke="#2ea02e" stroke-width="0.95"/>
<text x="199.80" y="109.62" font-family='"Liberation Serif", serif' font-size="5.7" font-weight="bold" text-anchor="start" fill="#111">Ex 340 nm</text>
<line x1="185.10" y1="114.85" x2="198.50" y2="114.85" stroke="#3535a5" stroke-width="0.95" stroke-dasharray="2.8,2.2"/>
<text x="199.80" y="116.79" font-family='"Liberation Serif", serif' font-size="5.7" font-weight="bold" text-anchor="start" fill="#111">Ex 350 nm</text>
<line x1="185.10" y1="122.02" x2="198.50" y2="122.02" stroke="#9a30ff" stroke-width="0.95"/>
<text x="199.80" y="123.96" font-family='"Liberation Serif", serif' font-size="5.7" font-weight="bold" text-anchor="start" fill="#111">Ex 360 nm</text>
<line x1="185.10" y1="129.19" x2="198.50" y2="129.19" stroke="#a030a0" stroke-width="0.95"/>
<text x="199.80" y="131.13" font-family='"Liberation Serif", serif' font-size="5.7" font-weight="bold" text-anchor="start" fill="#111">Ex 370 nm</text>
<line x1="185.10" y1="136.36" x2="198.50" y2="136.36" stroke="#b03535" stroke-width="0.95" stroke-dasharray="2.8,2.2"/>
<text x="199.80" y="138.30" font-family='"Liberation Serif", serif' font-size="5.7" font-weight="bold" text-anchor="start" fill="#111">Ex 380 nm</text>
<line x1="185.10" y1="143.53" x2="198.50" y2="143.53" stroke="#9a9a20" stroke-width="0.95"/>
<text x="199.80" y="145.47" font-family='"Liberation Serif", serif' font-size="5.7" font-weight="bold" text-anchor="start" fill="#111">Ex 390 nm</text>
<line x1="185.10" y1="150.70" x2="198.50" y2="150.70" stroke="#4a84d0" stroke-width="0.95" stroke-dasharray="3,1.2,1,1.2"/>
<text x="199.80" y="152.64" font-family='"Liberation Serif", serif' font-size="5.7" font-weight="bold" text-anchor="start" fill="#111">Ex 400 nm</text>
<line x1="410.60" y1="83.40" x2="423.40" y2="83.40" stroke="#333" stroke-width="0.95"/>
<text x="424.70" y="85.30" font-family='"Liberation Serif", serif' font-size="5.6" font-weight="bold" text-anchor="start" fill="#111">Ex 300 nm</text>
<line x1="410.60" y1="90.29" x2="423.40" y2="90.29" stroke="#ff2020" stroke-width="0.95"/>
<text x="424.70" y="92.19" font-family='"Liberation Serif", serif' font-size="5.6" font-weight="bold" text-anchor="start" fill="#111">Ex 310 nm</text>
<line x1="410.60" y1="97.18" x2="423.40" y2="97.18" stroke="#3030ff" stroke-width="0.95" stroke-dasharray="1,3"/>
<text x="424.70" y="99.08" font-family='"Liberation Serif", serif' font-size="5.6" font-weight="bold" text-anchor="start" fill="#111">Ex 320 nm</text>
<line x1="410.60" y1="104.07" x2="423.40" y2="104.07" stroke="#ff00ff" stroke-width="0.95"/>
<text x="424.70" y="105.97" font-family='"Liberation Serif", serif' font-size="5.6" font-weight="bold" text-anchor="start" fill="#111">Ex 330 nm</text>
<line x1="410.60" y1="110.96" x2="423.40" y2="110.96" stroke="#2ea02e" stroke-width="0.95"/>
<text x="424.70" y="112.86" font-family='"Liberation Serif", serif' font-size="5.6" font-weight="bold" text-anchor="start" fill="#111">Ex 340 nm</text>
<line x1="410.60" y1="117.85" x2="423.40" y2="117.85" stroke="#3535a5" stroke-width="0.95" stroke-dasharray="2.8,2.2"/>
<text x="424.70" y="119.75" font-family='"Liberation Serif", serif' font-size="5.6" font-weight="bold" text-anchor="start" fill="#111">Ex 350 nm</text>
<line x1="410.60" y1="124.74" x2="423.40" y2="124.74" stroke="#9a30ff" stroke-width="0.95"/>
<text x="424.70" y="126.64" font-family='"Liberation Serif", serif' font-size="5.6" font-weight="bold" text-anchor="start" fill="#111">Ex 360 nm</text>
<line x1="410.60" y1="131.63" x2="423.40" y2="131.63" stroke="#a030a0" stroke-width="0.95"/>
<text x="424.70" y="133.53" font-family='"Liberation Serif", serif' font-size="5.6" font-weight="bold" text-anchor="start" fill="#111">Ex 370 nm</text>
<line x1="410.60" y1="138.52" x2="423.40" y2="138.52" stroke="#b03535" stroke-width="0.95" stroke-dasharray="2.8,2.2"/>
<text x="424.70" y="140.42" font-family='"Liberation Serif", serif' font-size="5.6" font-weight="bold" text-anchor="start" fill="#111">Ex 380 nm</text>
<line x1="410.60" y1="145.41" x2="423.40" y2="145.41" stroke="#9a9a20" stroke-width="0.95"/>
<text x="424.70" y="147.31" font-family='"Liberation Serif", serif' font-size="5.6" font-weight="bold" text-anchor="start" fill="#111">Ex 390 nm</text>
<line x1="410.60" y1="152.30" x2="423.40" y2="152.30" stroke="#5a8fd0" stroke-width="0.95" stroke-dasharray="3,1.2,1,1.2"/>
<text x="424.70" y="154.20" font-family='"Liberation Serif", serif' font-size="5.6" font-weight="bold" text-anchor="start" fill="#111">Ex 400 nm</text>
<line x1="186.30" y1="260.10" x2="199.30" y2="260.10" stroke="#808080" stroke-width="0.95"/>
<text x="200.80" y="262.07" font-family='"Liberation Sans", sans-serif' font-size="5.8" font-weight="bold" text-anchor="start" fill="#111">Ex 300 nm</text>
<line x1="186.30" y1="267.17" x2="199.30" y2="267.17" stroke="#ff2020" stroke-width="0.95"/>
<text x="200.80" y="269.14" font-family='"Liberation Sans", sans-serif' font-size="5.8" font-weight="bold" text-anchor="start" fill="#111">Ex 310 nm</text>
<line x1="186.30" y1="274.24" x2="199.30" y2="274.24" stroke="#3030ff" stroke-width="0.95" stroke-dasharray="1,3"/>
<text x="200.80" y="276.21" font-family='"Liberation Sans", sans-serif' font-size="5.8" font-weight="bold" text-anchor="start" fill="#111">Ex 320 nm</text>
<line x1="186.30" y1="281.31" x2="199.30" y2="281.31" stroke="#ff00ff" stroke-width="0.95"/>
<text x="200.80" y="283.28" font-family='"Liberation Sans", sans-serif' font-size="5.8" font-weight="bold" text-anchor="start" fill="#111">Ex 330 nm</text>
<line x1="186.30" y1="288.38" x2="199.30" y2="288.38" stroke="#2ea02e" stroke-width="0.95"/>
<text x="200.80" y="290.35" font-family='"Liberation Sans", sans-serif' font-size="5.8" font-weight="bold" text-anchor="start" fill="#111">Ex 340 nm</text>
<line x1="186.30" y1="295.45" x2="199.30" y2="295.45" stroke="#3535a5" stroke-width="0.95" stroke-dasharray="2.8,2.2"/>
<text x="200.80" y="297.42" font-family='"Liberation Sans", sans-serif' font-size="5.8" font-weight="bold" text-anchor="start" fill="#111">Ex 350 nm</text>
<line x1="186.30" y1="302.52" x2="199.30" y2="302.52" stroke="#9a30ff" stroke-width="0.95"/>
<text x="200.80" y="304.49" font-family='"Liberation Sans", sans-serif' font-size="5.8" font-weight="bold" text-anchor="start" fill="#111">Ex 360 nm</text>
<line x1="186.30" y1="309.59" x2="199.30" y2="309.59" stroke="#a030a0" stroke-width="0.95"/>
<text x="200.80" y="311.56" font-family='"Liberation Sans", sans-serif' font-size="5.8" font-weight="bold" text-anchor="start" fill="#111">Ex 370 nm</text>
<line x1="186.30" y1="316.66" x2="199.30" y2="316.66" stroke="#b03535" stroke-width="0.95" stroke-dasharray="2.8,2.2"/>
<text x="200.80" y="318.63" font-family='"Liberation Sans", sans-serif' font-size="5.8" font-weight="bold" text-anchor="start" fill="#111">Ex 380 nm</text>
<line x1="186.30" y1="323.73" x2="199.30" y2="323.73" stroke="#9a9a20" stroke-width="0.95"/>
<text x="200.80" y="325.70" font-family='"Liberation Sans", sans-serif' font-size="5.8" font-weight="bold" text-anchor="start" fill="#111">Ex 390 nm</text>
<line x1="186.30" y1="330.80" x2="199.30" y2="330.80" stroke="#4a84d0" stroke-width="0.95" stroke-dasharray="3,1.2,1,1.2"/>
<text x="200.80" y="332.77" font-family='"Liberation Sans", sans-serif' font-size="5.8" font-weight="bold" text-anchor="start" fill="#111">Ex 400 nm</text>
<line x1="409.50" y1="260.40" x2="422.50" y2="260.40" stroke="#333" stroke-width="0.95"/>
<text x="423.90" y="262.37" font-family='"Liberation Sans", sans-serif' font-size="5.8" font-weight="bold" text-anchor="start" fill="#111">Ex 300 nm</text>
<line x1="409.50" y1="267.47" x2="422.50" y2="267.47" stroke="#ff2020" stroke-width="0.95"/>
<text x="423.90" y="269.44" font-family='"Liberation Sans", sans-serif' font-size="5.8" font-weight="bold" text-anchor="start" fill="#111">Ex 310 nm</text>
<line x1="409.50" y1="274.54" x2="422.50" y2="274.54" stroke="#3030ff" stroke-width="0.95" stroke-dasharray="1,3"/>
<text x="423.90" y="276.51" font-family='"Liberation Sans", sans-serif' font-size="5.8" font-weight="bold" text-anchor="start" fill="#111">Ex 320 nm</text>
<line x1="409.50" y1="281.61" x2="422.50" y2="281.61" stroke="#ff00ff" stroke-width="0.95"/>
<text x="423.90" y="283.58" font-family='"Liberation Sans", sans-serif' font-size="5.8" font-weight="bold" text-anchor="start" fill="#111">Ex 330 nm</text>
<line x1="409.50" y1="288.68" x2="422.50" y2="288.68" stroke="#2ea02e" stroke-width="0.95"/>
<text x="423.90" y="290.65" font-family='"Liberation Sans", sans-serif' font-size="5.8" font-weight="bold" text-anchor="start" fill="#111">Ex 340 nm</text>
<line x1="409.50" y1="295.75" x2="422.50" y2="295.75" stroke="#3535a5" stroke-width="0.95" stroke-dasharray="2.8,2.2"/>
<text x="423.90" y="297.72" font-family='"Liberation Sans", sans-serif' font-size="5.8" font-weight="bold" text-anchor="start" fill="#111">Ex 350 nm</text>
<line x1="409.50" y1="302.82" x2="422.50" y2="302.82" stroke="#9a30ff" stroke-width="0.95"/>
<text x="423.90" y="304.79" font-family='"Liberation Sans", sans-serif' font-size="5.8" font-weight="bold" text-anchor="start" fill="#111">Ex 360 nm</text>
<line x1="409.50" y1="309.89" x2="422.50" y2="309.89" stroke="#a030a0" stroke-width="0.95"/>
<text x="423.90" y="311.86" font-family='"Liberation Sans", sans-serif' font-size="5.8" font-weight="bold" text-anchor="start" fill="#111">Ex 370 nm</text>
<line x1="409.50" y1="316.96" x2="422.50" y2="316.96" stroke="#b03535" stroke-width="0.95" stroke-dasharray="2.8,2.2"/>
<text x="423.90" y="318.93" font-family='"Liberation Sans", sans-serif' font-size="5.8" font-weight="bold" text-anchor="start" fill="#111">Ex 380 nm</text>
<line x1="409.50" y1="324.03" x2="422.50" y2="324.03" stroke="#9a9a20" stroke-width="0.95"/>
<text x="423.90" y="326.00" font-family='"Liberation Sans", sans-serif' font-size="5.8" font-weight="bold" text-anchor="start" fill="#111">Ex 390 nm</text>
<line x1="409.50" y1="331.10" x2="422.50" y2="331.10" stroke="#4a84d0" stroke-width="0.95" stroke-dasharray="3,1.2,1,1.2"/>
<text x="423.90" y="333.07" font-family='"Liberation Sans", sans-serif' font-size="5.8" font-weight="bold" text-anchor="start" fill="#111">Ex 400 nm</text>
<rect x="166.70" y="9.40" width="56.10" height="45.60" stroke="#b8b8b8" stroke-width="0.8" fill="none"/>
<line x1="165.90" y1="13.65" x2="166.70" y2="13.65" stroke="#888" stroke-width="0.5"/>
<line x1="165.90" y1="22.16" x2="166.70" y2="22.16" stroke="#888" stroke-width="0.5"/>
<line x1="165.90" y1="30.66" x2="166.70" y2="30.66" stroke="#888" stroke-width="0.5"/>
<line x1="165.90" y1="39.17" x2="166.70" y2="39.17" stroke="#888" stroke-width="0.5"/>
<line x1="165.90" y1="47.67" x2="166.70" y2="47.67" stroke="#888" stroke-width="0.5"/>
<line x1="175.64" y1="55.00" x2="175.64" y2="55.80" stroke="#888" stroke-width="0.5"/>
<line x1="185.12" y1="55.00" x2="185.12" y2="55.80" stroke="#888" stroke-width="0.5"/>
<line x1="194.60" y1="55.00" x2="194.60" y2="55.80" stroke="#888" stroke-width="0.5"/>
<line x1="204.08" y1="55.00" x2="204.08" y2="55.80" stroke="#888" stroke-width="0.5"/>
<line x1="213.56" y1="55.00" x2="213.56" y2="55.80" stroke="#888" stroke-width="0.5"/>
<line x1="165.40" y1="9.40" x2="166.70" y2="9.40" stroke="#777" stroke-width="0.6"/>
<text x="165.00" y="10.80" font-family='"Liberation Serif", serif' font-size="4.2" font-weight="bold" text-anchor="end" fill="#000" class="ns">450</text>
<line x1="165.40" y1="17.91" x2="166.70" y2="17.91" stroke="#777" stroke-width="0.6"/>
<text x="165.00" y="19.30" font-family='"Liberation Serif", serif' font-size="4.2" font-weight="bold" text-anchor="end" fill="#000" class="ns">435</text>
<line x1="165.40" y1="26.41" x2="166.70" y2="26.41" stroke="#777" stroke-width="0.6"/>
<text x="165.00" y="27.81" font-family='"Liberation Serif", serif' font-size="4.2" font-weight="bold" text-anchor="end" fill="#000" class="ns">420</text>
<line x1="165.40" y1="34.91" x2="166.70" y2="34.91" stroke="#777" stroke-width="0.6"/>
<text x="165.00" y="36.31" font-family='"Liberation Serif", serif' font-size="4.2" font-weight="bold" text-anchor="end" fill="#000" class="ns">405</text>
<line x1="165.40" y1="43.42" x2="166.70" y2="43.42" stroke="#777" stroke-width="0.6"/>
<text x="165.00" y="44.82" font-family='"Liberation Serif", serif' font-size="4.2" font-weight="bold" text-anchor="end" fill="#000" class="ns">390</text>
<line x1="165.40" y1="51.92" x2="166.70" y2="51.92" stroke="#777" stroke-width="0.6"/>
<text x="165.00" y="53.32" font-family='"Liberation Serif", serif' font-size="4.2" font-weight="bold" text-anchor="end" fill="#000" class="ns">375</text>
<line x1="170.90" y1="55.00" x2="170.90" y2="56.30" stroke="#777" stroke-width="0.6"/>
<text x="170.90" y="59.60" font-family='"Liberation Serif", serif' font-size="4.2" font-weight="bold" text-anchor="middle" fill="#000" class="ns">300</text>
<line x1="180.38" y1="55.00" x2="180.38" y2="56.30" stroke="#777" stroke-width="0.6"/>
<text x="180.38" y="59.60" font-family='"Liberation Serif", serif' font-size="4.2" font-weight="bold" text-anchor="middle" fill="#000" class="ns">320</text>
<line x1="189.86" y1="55.00" x2="189.86" y2="56.30" stroke="#777" stroke-width="0.6"/>
<text x="189.86" y="59.60" font-family='"Liberation Serif", serif' font-size="4.2" font-weight="bold" text-anchor="middle" fill="#000" class="ns">340</text>
<line x1="199.34" y1="55.00" x2="199.34" y2="56.30" stroke="#777" stroke-width="0.6"/>
<text x="199.34" y="59.60" font-family='"Liberation Serif", serif' font-size="4.2" font-weight="bold" text-anchor="middle" fill="#000" class="ns">360</text>
<line x1="208.82" y1="55.00" x2="208.82" y2="56.30" stroke="#777" stroke-width="0.6"/>
<text x="208.82" y="59.60" font-family='"Liberation Serif", serif' font-size="4.2" font-weight="bold" text-anchor="middle" fill="#000" class="ns">380</text>
<line x1="218.30" y1="55.00" x2="218.30" y2="56.30" stroke="#777" stroke-width="0.6"/>
<text x="218.30" y="59.60" font-family='"Liberation Serif", serif' font-size="4.2" font-weight="bold" text-anchor="middle" fill="#000" class="ns">400</text>
<text x="195.75" y="66.20" font-family='"Liberation Serif", serif' font-size="5.7" font-weight="bold" text-anchor="middle" fill="#111" class="ns">λ<tspan font-size="3.6" dy="-2.3">exc</tspan><tspan dy="2.3"> (nm)</tspan></text>
<text x="156.90" y="32.20" font-family='"Liberation Serif", serif' font-size="5.7" font-weight="bold" text-anchor="middle" fill="#111" class="ns" transform="rotate(-90 156.90 32.20)">λ<tspan font-size="3.6" dy="-2.3">em</tspan><tspan dy="2.3"> (nm)</tspan></text>
<path d="M170.90,49.04 L168.70,52.85 L173.10,52.85 Z" fill="none" stroke="#5cb8b8" stroke-width="0.6"/>
<path d="M175.80,50.34 L173.60,54.15 L178.00,54.15 Z" fill="none" stroke="#5cb8b8" stroke-width="0.6"/>
<path d="M180.40,50.74 L178.20,54.55 L182.60,54.55 Z" fill="none" stroke="#5cb8b8" stroke-width="0.6"/>
<path d="M185.10,43.34 L182.90,47.15 L187.30,47.15 Z" fill="none" stroke="#5cb8b8" stroke-width="0.6"/>
<path d="M189.80,30.04 L187.60,33.85 L192.00,33.85 Z" fill="none" stroke="#5cb8b8" stroke-width="0.6"/>
<path d="M194.60,22.84 L192.40,26.65 L196.80,26.65 Z" fill="none" stroke="#5cb8b8" stroke-width="0.6"/>
<path d="M199.30,17.64 L197.10,21.45 L201.50,21.45 Z" fill="none" stroke="#5cb8b8" stroke-width="0.6"/>
<path d="M204.10,17.34 L201.90,21.15 L206.30,21.15 Z" fill="none" stroke="#5cb8b8" stroke-width="0.6"/>
<path d="M208.80,16.14 L206.60,19.95 L211.00,19.95 Z" fill="none" stroke="#5cb8b8" stroke-width="0.6"/>
<path d="M213.60,12.74 L211.40,16.55 L215.80,16.55 Z" fill="none" stroke="#5cb8b8" stroke-width="0.6"/>
<path d="M218.30,15.04 L216.10,18.85 L220.50,18.85 Z" fill="none" stroke="#5cb8b8" stroke-width="0.6"/>
<rect x="391.90" y="9.90" width="56.90" height="46.10" stroke="#b8b8b8" stroke-width="0.8" fill="none"/>
<line x1="391.10" y1="16.52" x2="391.90" y2="16.52" stroke="#888" stroke-width="0.5"/>
<line x1="391.10" y1="25.16" x2="391.90" y2="25.16" stroke="#888" stroke-width="0.5"/>
<line x1="391.10" y1="33.80" x2="391.90" y2="33.80" stroke="#888" stroke-width="0.5"/>
<line x1="391.10" y1="42.44" x2="391.90" y2="42.44" stroke="#888" stroke-width="0.5"/>
<line x1="391.10" y1="51.08" x2="391.90" y2="51.08" stroke="#888" stroke-width="0.5"/>
<line x1="401.02" y1="56.00" x2="401.02" y2="56.80" stroke="#888" stroke-width="0.5"/>
<line x1="410.46" y1="56.00" x2="410.46" y2="56.80" stroke="#888" stroke-width="0.5"/>
<line x1="419.90" y1="56.00" x2="419.90" y2="56.80" stroke="#888" stroke-width="0.5"/>
<line x1="429.34" y1="56.00" x2="429.34" y2="56.80" stroke="#888" stroke-width="0.5"/>
<line x1="438.78" y1="56.00" x2="438.78" y2="56.80" stroke="#888" stroke-width="0.5"/>
<line x1="390.60" y1="12.20" x2="391.90" y2="12.20" stroke="#777" stroke-width="0.6"/>
<text x="390.20" y="13.60" font-family='"Liberation Serif", serif' font-size="4.2" font-weight="bold" text-anchor="end" fill="#000" class="ns">435</text>
<line x1="390.60" y1="20.84" x2="391.90" y2="20.84" stroke="#777" stroke-width="0.6"/>
<text x="390.20" y="22.24" font-family='"Liberation Serif", serif' font-size="4.2" font-weight="bold" text-anchor="end" fill="#000" class="ns">420</text>
<line x1="390.60" y1="29.48" x2="391.90" y2="29.48" stroke="#777" stroke-width="0.6"/>
<text x="390.20" y="30.88" font-family='"Liberation Serif", serif' font-size="4.2" font-weight="bold" text-anchor="end" fill="#000" class="ns">405</text>
<line x1="390.60" y1="38.12" x2="391.90" y2="38.12" stroke="#777" stroke-width="0.6"/>
<text x="390.20" y="39.52" font-family='"Liberation Serif", serif' font-size="4.2" font-weight="bold" text-anchor="end" fill="#000" class="ns">390</text>
<line x1="390.60" y1="46.76" x2="391.90" y2="46.76" stroke="#777" stroke-width="0.6"/>
<text x="390.20" y="48.16" font-family='"Liberation Serif", serif' font-size="4.2" font-weight="bold" text-anchor="end" fill="#000" class="ns">375</text>
<line x1="390.60" y1="55.40" x2="391.90" y2="55.40" stroke="#777" stroke-width="0.6"/>
<text x="390.20" y="56.80" font-family='"Liberation Serif", serif' font-size="4.2" font-weight="bold" text-anchor="end" fill="#000" class="ns">360</text>
<line x1="396.30" y1="56.00" x2="396.30" y2="57.30" stroke="#777" stroke-width="0.6"/>
<text x="396.30" y="59.70" font-family='"Liberation Serif", serif' font-size="4.2" font-weight="bold" text-anchor="middle" fill="#000" class="ns">300</text>
<line x1="405.74" y1="56.00" x2="405.74" y2="57.30" stroke="#777" stroke-width="0.6"/>
<text x="405.74" y="59.70" font-family='"Liberation Serif", serif' font-size="4.2" font-weight="bold" text-anchor="middle" fill="#000" class="ns">320</text>
<line x1="415.18" y1="56.00" x2="415.18" y2="57.30" stroke="#777" stroke-width="0.6"/>
<text x="415.18" y="59.70" font-family='"Liberation Serif", serif' font-size="4.2" font-weight="bold" text-anchor="middle" fill="#000" class="ns">340</text>
<line x1="424.62" y1="56.00" x2="424.62" y2="57.30" stroke="#777" stroke-width="0.6"/>
<text x="424.62" y="59.70" font-family='"Liberation Serif", serif' font-size="4.2" font-weight="bold" text-anchor="middle" fill="#000" class="ns">360</text>
<line x1="434.06" y1="56.00" x2="434.06" y2="57.30" stroke="#777" stroke-width="0.6"/>
<text x="434.06" y="59.70" font-family='"Liberation Serif", serif' font-size="4.2" font-weight="bold" text-anchor="middle" fill="#000" class="ns">380</text>
<line x1="443.50" y1="56.00" x2="443.50" y2="57.30" stroke="#777" stroke-width="0.6"/>
<text x="443.50" y="59.70" font-family='"Liberation Serif", serif' font-size="4.2" font-weight="bold" text-anchor="middle" fill="#000" class="ns">400</text>
<text x="421.35" y="65.80" font-family='"Liberation Serif", serif' font-size="5.7" font-weight="bold" text-anchor="middle" fill="#111" class="ns">λ<tspan font-size="3.6" dy="-2.3">exc</tspan><tspan dy="2.3"> (nm)</tspan></text>
<text x="381.60" y="32.95" font-family='"Liberation Serif", serif' font-size="5.7" font-weight="bold" text-anchor="middle" fill="#111" class="ns" transform="rotate(-90 381.60 32.95)">λ<tspan font-size="3.6" dy="-2.3">em</tspan><tspan dy="2.3"> (nm)</tspan></text>
<path d="M396.30,42.16 L394.10,38.35 L398.50,38.35 Z" fill="none" stroke="#ffa040" stroke-width="0.6"/>
<path d="M400.80,53.26 L398.60,49.45 L403.00,49.45 Z" fill="none" stroke="#ffa040" stroke-width="0.6"/>
<path d="M405.80,53.56 L403.60,49.75 L408.00,49.75 Z" fill="none" stroke="#ffa040" stroke-width="0.6"/>
<path d="M410.90,30.26 L408.70,26.45 L413.10,26.45 Z" fill="none" stroke="#ffa040" stroke-width="0.6"/>
<path d="M415.30,19.46 L413.10,15.65 L417.50,15.65 Z" fill="none" stroke="#ffa040" stroke-width="0.6"/>
<path d="M419.80,18.06 L417.60,14.25 L422.00,14.25 Z" fill="none" stroke="#ffa040" stroke-width="0.6"/>
<path d="M424.80,17.56 L422.60,13.75 L427.00,13.75 Z" fill="none" stroke="#ffa040" stroke-width="0.6"/>
<path d="M429.30,16.96 L427.10,13.15 L431.50,13.15 Z" fill="none" stroke="#ffa040" stroke-width="0.6"/>
<path d="M434.00,16.06 L431.80,12.25 L436.20,12.25 Z" fill="none" stroke="#ffa040" stroke-width="0.6"/>
<path d="M438.80,15.26 L436.60,11.45 L441.00,11.45 Z" fill="none" stroke="#ffa040" stroke-width="0.6"/>
<path d="M443.50,15.26 L441.30,11.45 L445.70,11.45 Z" fill="none" stroke="#ffa040" stroke-width="0.6"/>
<rect x="165.50" y="191.60" width="58.40" height="46.20" stroke="#b8b8b8" stroke-width="0.8" fill="none"/>
<line x1="164.70" y1="196.22" x2="165.50" y2="196.22" stroke="#888" stroke-width="0.5"/>
<line x1="164.70" y1="205.46" x2="165.50" y2="205.46" stroke="#888" stroke-width="0.5"/>
<line x1="164.70" y1="214.70" x2="165.50" y2="214.70" stroke="#888" stroke-width="0.5"/>
<line x1="164.70" y1="223.94" x2="165.50" y2="223.94" stroke="#888" stroke-width="0.5"/>
<line x1="164.70" y1="233.18" x2="165.50" y2="233.18" stroke="#888" stroke-width="0.5"/>
<line x1="175.54" y1="237.80" x2="175.54" y2="238.60" stroke="#888" stroke-width="0.5"/>
<line x1="185.02" y1="237.80" x2="185.02" y2="238.60" stroke="#888" stroke-width="0.5"/>
<line x1="194.50" y1="237.80" x2="194.50" y2="238.60" stroke="#888" stroke-width="0.5"/>
<line x1="203.98" y1="237.80" x2="203.98" y2="238.60" stroke="#888" stroke-width="0.5"/>
<line x1="213.46" y1="237.80" x2="213.46" y2="238.60" stroke="#888" stroke-width="0.5"/>
<line x1="164.20" y1="191.60" x2="165.50" y2="191.60" stroke="#777" stroke-width="0.6"/>
<text x="163.60" y="193.00" font-family='"Liberation Sans", sans-serif' font-size="4.2" font-weight="bold" text-anchor="end" fill="#000" class="ns">436</text>
<line x1="164.20" y1="200.84" x2="165.50" y2="200.84" stroke="#777" stroke-width="0.6"/>
<text x="163.60" y="202.24" font-family='"Liberation Sans", sans-serif' font-size="4.2" font-weight="bold" text-anchor="end" fill="#000" class="ns">434</text>
<line x1="164.20" y1="210.08" x2="165.50" y2="210.08" stroke="#777" stroke-width="0.6"/>
<text x="163.60" y="211.48" font-family='"Liberation Sans", sans-serif' font-size="4.2" font-weight="bold" text-anchor="end" fill="#000" class="ns">432</text>
<line x1="164.20" y1="219.32" x2="165.50" y2="219.32" stroke="#777" stroke-width="0.6"/>
<text x="163.60" y="220.72" font-family='"Liberation Sans", sans-serif' font-size="4.2" font-weight="bold" text-anchor="end" fill="#000" class="ns">430</text>
<line x1="164.20" y1="228.56" x2="165.50" y2="228.56" stroke="#777" stroke-width="0.6"/>
<text x="163.60" y="229.96" font-family='"Liberation Sans", sans-serif' font-size="4.2" font-weight="bold" text-anchor="end" fill="#000" class="ns">428</text>
<line x1="164.20" y1="237.80" x2="165.50" y2="237.80" stroke="#777" stroke-width="0.6"/>
<text x="163.60" y="239.20" font-family='"Liberation Sans", sans-serif' font-size="4.2" font-weight="bold" text-anchor="end" fill="#000" class="ns">426</text>
<line x1="170.80" y1="237.80" x2="170.80" y2="239.10" stroke="#777" stroke-width="0.6"/>
<text x="170.80" y="242.60" font-family='"Liberation Sans", sans-serif' font-size="4.2" font-weight="bold" text-anchor="middle" fill="#000" class="ns">300</text>
<line x1="180.28" y1="237.80" x2="180.28" y2="239.10" stroke="#777" stroke-width="0.6"/>
<text x="180.28" y="242.60" font-family='"Liberation Sans", sans-serif' font-size="4.2" font-weight="bold" text-anchor="middle" fill="#000" class="ns">320</text>
<line x1="189.76" y1="237.80" x2="189.76" y2="239.10" stroke="#777" stroke-width="0.6"/>
<text x="189.76" y="242.60" font-family='"Liberation Sans", sans-serif' font-size="4.2" font-weight="bold" text-anchor="middle" fill="#000" class="ns">340</text>
<line x1="199.24" y1="237.80" x2="199.24" y2="239.10" stroke="#777" stroke-width="0.6"/>
<text x="199.24" y="242.60" font-family='"Liberation Sans", sans-serif' font-size="4.2" font-weight="bold" text-anchor="middle" fill="#000" class="ns">360</text>
<line x1="208.72" y1="237.80" x2="208.72" y2="239.10" stroke="#777" stroke-width="0.6"/>
<text x="208.72" y="242.60" font-family='"Liberation Sans", sans-serif' font-size="4.2" font-weight="bold" text-anchor="middle" fill="#000" class="ns">380</text>
<line x1="218.20" y1="237.80" x2="218.20" y2="239.10" stroke="#777" stroke-width="0.6"/>
<text x="218.20" y="242.60" font-family='"Liberation Sans", sans-serif' font-size="4.2" font-weight="bold" text-anchor="middle" fill="#000" class="ns">400</text>
<text x="195.70" y="249.30" font-family='"Liberation Sans", sans-serif' font-size="5.7" font-weight="bold" text-anchor="middle" fill="#111" class="ns">λ<tspan font-size="3.6" dy="-2.3">exc</tspan><tspan dy="2.3"> (nm)</tspan></text>
<text x="156.00" y="214.70" font-family='"Liberation Sans", sans-serif' font-size="5.7" font-weight="bold" text-anchor="middle" fill="#111" class="ns" transform="rotate(-90 156.00 214.70)">λ<tspan font-size="3.6" dy="-2.3">em</tspan><tspan dy="2.3"> (nm)</tspan></text>
<path d="M168.44,200.70 L172.25,198.50 L172.25,202.90 Z" fill="none" stroke="#b060ff" stroke-width="0.6"/>
<path d="M173.14,205.30 L176.95,203.10 L176.95,207.50 Z" fill="none" stroke="#b060ff" stroke-width="0.6"/>
<path d="M177.94,210.00 L181.75,207.80 L181.75,212.20 Z" fill="none" stroke="#b060ff" stroke-width="0.6"/>
<path d="M182.64,219.20 L186.45,217.00 L186.45,221.40 Z" fill="none" stroke="#b060ff" stroke-width="0.6"/>
<path d="M187.34,233.40 L191.15,231.20 L191.15,235.60 Z" fill="none" stroke="#b060ff" stroke-width="0.6"/>
<path d="M192.14,219.20 L195.95,217.00 L195.95,221.40 Z" fill="none" stroke="#b060ff" stroke-width="0.6"/>
<path d="M196.84,210.00 L200.65,207.80 L200.65,212.20 Z" fill="none" stroke="#b060ff" stroke-width="0.6"/>
<path d="M201.64,200.70 L205.45,198.50 L205.45,202.90 Z" fill="none" stroke="#b060ff" stroke-width="0.6"/>
<path d="M206.34,200.70 L210.15,198.50 L210.15,202.90 Z" fill="none" stroke="#b060ff" stroke-width="0.6"/>
<path d="M211.14,196.40 L214.95,194.20 L214.95,198.60 Z" fill="none" stroke="#b060ff" stroke-width="0.6"/>
<path d="M215.84,200.70 L219.65,198.50 L219.65,202.90 Z" fill="none" stroke="#b060ff" stroke-width="0.6"/>
<rect x="390.00" y="191.10" width="58.80" height="47.00" stroke="#b8b8b8" stroke-width="0.8" fill="none"/>
<line x1="389.20" y1="195.80" x2="390.00" y2="195.80" stroke="#888" stroke-width="0.5"/>
<line x1="389.20" y1="205.20" x2="390.00" y2="205.20" stroke="#888" stroke-width="0.5"/>
<line x1="389.20" y1="214.60" x2="390.00" y2="214.60" stroke="#888" stroke-width="0.5"/>
<line x1="389.20" y1="224.00" x2="390.00" y2="224.00" stroke="#888" stroke-width="0.5"/>
<line x1="389.20" y1="233.40" x2="390.00" y2="233.40" stroke="#888" stroke-width="0.5"/>
<line x1="399.98" y1="238.10" x2="399.98" y2="238.90" stroke="#888" stroke-width="0.5"/>
<line x1="409.74" y1="238.10" x2="409.74" y2="238.90" stroke="#888" stroke-width="0.5"/>
<line x1="419.50" y1="238.10" x2="419.50" y2="238.90" stroke="#888" stroke-width="0.5"/>
<line x1="429.26" y1="238.10" x2="429.26" y2="238.90" stroke="#888" stroke-width="0.5"/>
<line x1="439.02" y1="238.10" x2="439.02" y2="238.90" stroke="#888" stroke-width="0.5"/>
<line x1="388.70" y1="191.10" x2="390.00" y2="191.10" stroke="#777" stroke-width="0.6"/>
<text x="388.80" y="192.50" font-family='"Liberation Sans", sans-serif' font-size="4.2" font-weight="bold" text-anchor="end" fill="#000" class="ns">436</text>
<line x1="388.70" y1="200.50" x2="390.00" y2="200.50" stroke="#777" stroke-width="0.6"/>
<text x="388.80" y="201.90" font-family='"Liberation Sans", sans-serif' font-size="4.2" font-weight="bold" text-anchor="end" fill="#000" class="ns">434</text>
<line x1="388.70" y1="209.90" x2="390.00" y2="209.90" stroke="#777" stroke-width="0.6"/>
<text x="388.80" y="211.30" font-family='"Liberation Sans", sans-serif' font-size="4.2" font-weight="bold" text-anchor="end" fill="#000" class="ns">432</text>
<line x1="388.70" y1="219.30" x2="390.00" y2="219.30" stroke="#777" stroke-width="0.6"/>
<text x="388.80" y="220.70" font-family='"Liberation Sans", sans-serif' font-size="4.2" font-weight="bold" text-anchor="end" fill="#000" class="ns">430</text>
<line x1="388.70" y1="228.70" x2="390.00" y2="228.70" stroke="#777" stroke-width="0.6"/>
<text x="388.80" y="230.10" font-family='"Liberation Sans", sans-serif' font-size="4.2" font-weight="bold" text-anchor="end" fill="#000" class="ns">428</text>
<line x1="388.70" y1="238.10" x2="390.00" y2="238.10" stroke="#777" stroke-width="0.6"/>
<text x="388.80" y="239.50" font-family='"Liberation Sans", sans-serif' font-size="4.2" font-weight="bold" text-anchor="end" fill="#000" class="ns">426</text>
<line x1="395.10" y1="238.10" x2="395.10" y2="239.40" stroke="#777" stroke-width="0.6"/>
<text x="395.10" y="243.00" font-family='"Liberation Sans", sans-serif' font-size="4.2" font-weight="bold" text-anchor="middle" fill="#000" class="ns">300</text>
<line x1="404.86" y1="238.10" x2="404.86" y2="239.40" stroke="#777" stroke-width="0.6"/>
<text x="404.86" y="243.00" font-family='"Liberation Sans", sans-serif' font-size="4.2" font-weight="bold" text-anchor="middle" fill="#000" class="ns">320</text>
<line x1="414.62" y1="238.10" x2="414.62" y2="239.40" stroke="#777" stroke-width="0.6"/>
<text x="414.62" y="243.00" font-family='"Liberation Sans", sans-serif' font-size="4.2" font-weight="bold" text-anchor="middle" fill="#000" class="ns">340</text>
<line x1="424.38" y1="238.10" x2="424.38" y2="239.40" stroke="#777" stroke-width="0.6"/>
<text x="424.38" y="243.00" font-family='"Liberation Sans", sans-serif' font-size="4.2" font-weight="bold" text-anchor="middle" fill="#000" class="ns">360</text>
<line x1="434.14" y1="238.10" x2="434.14" y2="239.40" stroke="#777" stroke-width="0.6"/>
<text x="434.14" y="243.00" font-family='"Liberation Sans", sans-serif' font-size="4.2" font-weight="bold" text-anchor="middle" fill="#000" class="ns">380</text>
<line x1="443.90" y1="238.10" x2="443.90" y2="239.40" stroke="#777" stroke-width="0.6"/>
<text x="443.90" y="243.00" font-family='"Liberation Sans", sans-serif' font-size="4.2" font-weight="bold" text-anchor="middle" fill="#000" class="ns">400</text>
<text x="420.40" y="249.60" font-family='"Liberation Sans", sans-serif' font-size="5.7" font-weight="bold" text-anchor="middle" fill="#111" class="ns">λ<tspan font-size="3.6" dy="-2.3">exc</tspan><tspan dy="2.3"> (nm)</tspan></text>
<text x="380.60" y="214.60" font-family='"Liberation Sans", sans-serif' font-size="5.7" font-weight="bold" text-anchor="middle" fill="#111" class="ns" transform="rotate(-90 380.60 214.60)">λ<tspan font-size="3.6" dy="-2.3">em</tspan><tspan dy="2.3"> (nm)</tspan></text>
<path d="M397.46,205.30 L393.65,203.10 L393.65,207.50 Z" fill="none" stroke="#ff60c0" stroke-width="0.6"/>
<path d="M402.46,195.80 L398.65,193.60 L398.65,198.00 Z" fill="none" stroke="#ff60c0" stroke-width="0.6"/>
<path d="M407.56,195.80 L403.75,193.60 L403.75,198.00 Z" fill="none" stroke="#ff60c0" stroke-width="0.6"/>
<path d="M412.36,219.50 L408.55,217.30 L408.55,221.70 Z" fill="none" stroke="#ff60c0" stroke-width="0.6"/>
<path d="M417.66,233.80 L413.85,231.60 L413.85,236.00 Z" fill="none" stroke="#ff60c0" stroke-width="0.6"/>
<path d="M422.16,224.30 L418.35,222.10 L418.35,226.50 Z" fill="none" stroke="#ff60c0" stroke-width="0.6"/>
<path d="M427.16,205.30 L423.35,203.10 L423.35,207.50 Z" fill="none" stroke="#ff60c0" stroke-width="0.6"/>
<path d="M431.66,200.60 L427.85,198.40 L427.85,202.80 Z" fill="none" stroke="#ff60c0" stroke-width="0.6"/>
<path d="M436.56,200.60 L432.75,198.40 L432.75,202.80 Z" fill="none" stroke="#ff60c0" stroke-width="0.6"/>
<path d="M441.16,195.80 L437.35,193.60 L437.35,198.00 Z" fill="none" stroke="#ff60c0" stroke-width="0.6"/>
<path d="M446.46,200.60 L442.65,198.40 L442.65,202.80 Z" fill="none" stroke="#ff60c0" stroke-width="0.6"/>
<circle cx="509.30" cy="125.07" r="2.1" fill="url(#gT)"/>
<path d="M507.10,66.10 L511.50,66.10 L509.30,70.06 Z" fill="#ff8000"/>
<rect x="507.65" y="140.19" width="3.3" height="3.3" fill="#8000ff"/>
<path d="M509.30,143.93 L509.93,145.45 L511.58,145.59 L510.33,146.66 L510.71,148.27 L509.30,147.41 L507.89,148.27 L508.27,146.66 L507.02,145.59 L508.67,145.45 Z" fill="#ff0080"/>
<circle cx="540.85" cy="109.20" r="2.1" fill="url(#gT)"/>
<path d="M538.65,46.94 L543.05,46.94 L540.85,50.90 Z" fill="#ff8000"/>
<rect x="539.20" y="134.80" width="3.3" height="3.3" fill="#8000ff"/>
<path d="M540.85,135.54 L541.48,137.07 L543.13,137.20 L541.88,138.28 L542.26,139.89 L540.85,139.02 L539.44,139.89 L539.82,138.28 L538.57,137.20 L540.22,137.07 Z" fill="#ff0080"/>
<circle cx="572.40" cy="105.91" r="2.1" fill="url(#gT)"/>
<path d="M570.20,48.14 L574.60,48.14 L572.40,52.10 Z" fill="#ff8000"/>
<rect x="570.75" y="133.60" width="3.3" height="3.3" fill="#8000ff"/>
<path d="M572.40,133.75 L573.03,135.27 L574.68,135.41 L573.43,136.48 L573.81,138.09 L572.40,137.23 L570.99,138.09 L571.37,136.48 L570.12,135.41 L571.77,135.27 Z" fill="#ff0080"/>
<circle cx="603.95" cy="103.21" r="2.1" fill="url(#gT)"/>
<path d="M601.75,22.99 L606.15,22.99 L603.95,26.95 Z" fill="#ff8000"/>
<rect x="602.30" y="118.93" width="3.3" height="3.3" fill="#8000ff"/>
<path d="M603.95,122.97 L604.58,124.50 L606.23,124.63 L604.98,125.70 L605.36,127.31 L603.95,126.45 L602.54,127.31 L602.92,125.70 L601.67,124.63 L603.32,124.50 Z" fill="#ff0080"/>
<circle cx="635.50" cy="106.51" r="2.1" fill="url(#gT)"/>
<path d="M633.30,34.37 L637.70,34.37 L635.50,38.33 Z" fill="#ff8000"/>
<rect x="633.85" y="120.13" width="3.3" height="3.3" fill="#8000ff"/>
<path d="M635.50,122.37 L636.13,123.90 L637.78,124.03 L636.53,125.10 L636.91,126.71 L635.50,125.85 L634.09,126.71 L634.47,125.10 L633.22,124.03 L634.87,123.90 Z" fill="#ff0080"/>
<circle cx="667.05" cy="104.41" r="2.1" fill="url(#gT)"/>
<path d="M664.85,72.09 L669.25,72.09 L667.05,76.05 Z" fill="#ff8000"/>
<rect x="665.40" y="97.07" width="3.3" height="3.3" fill="#8000ff"/>
<path d="M667.05,111.29 L667.68,112.82 L669.33,112.95 L668.08,114.03 L668.46,115.63 L667.05,114.77 L665.64,115.63 L666.02,114.03 L664.77,112.95 L666.42,112.82 Z" fill="#ff0080"/>
<rect x="494.40" y="11.30" width="37.10" height="34.70" stroke="#c8c8c8" stroke-width="0.7" fill="#fff"/>
<circle cx="503.30" cy="16.20" r="2.1" fill="url(#gT)"/>
<path d="M501.10,22.82 L505.50,22.82 L503.30,26.78 Z" fill="#ff8000"/>
<rect x="501.65" y="31.55" width="3.3" height="3.3" fill="#8000ff"/>
<path d="M503.30,38.90 L503.93,40.43 L505.58,40.56 L504.33,41.63 L504.71,43.24 L503.30,42.38 L501.89,43.24 L502.27,41.63 L501.02,40.56 L502.67,40.43 Z" fill="#ff0080"/>
<text x="510.90" y="18.45" font-family='"Liberation Sans", sans-serif' font-size="6.6" font-weight="bold" text-anchor="start" fill="#111">CD-10</text>
<text x="510.90" y="26.82" font-family='"Liberation Sans", sans-serif' font-size="6.6" font-weight="bold" text-anchor="start" fill="#111">CD-20</text>
<text x="510.90" y="35.19" font-family='"Liberation Sans", sans-serif' font-size="6.6" font-weight="bold" text-anchor="start" fill="#111">CD-30</text>
<text x="510.90" y="43.56" font-family='"Liberation Sans", sans-serif' font-size="6.6" font-weight="bold" text-anchor="start" fill="#111">CD-40</text>
<circle cx="507.70" cy="218.62" r="3.3" fill="url(#gT)"/>
<circle cx="561.93" cy="232.47" r="3.3" fill="url(#gO)"/>
<circle cx="616.16" cy="264.79" r="3.3" fill="url(#gV)"/>
<circle cx="670.39" cy="304.29" r="3.3" fill="url(#gP)"/>
</svg>
</body></html>
